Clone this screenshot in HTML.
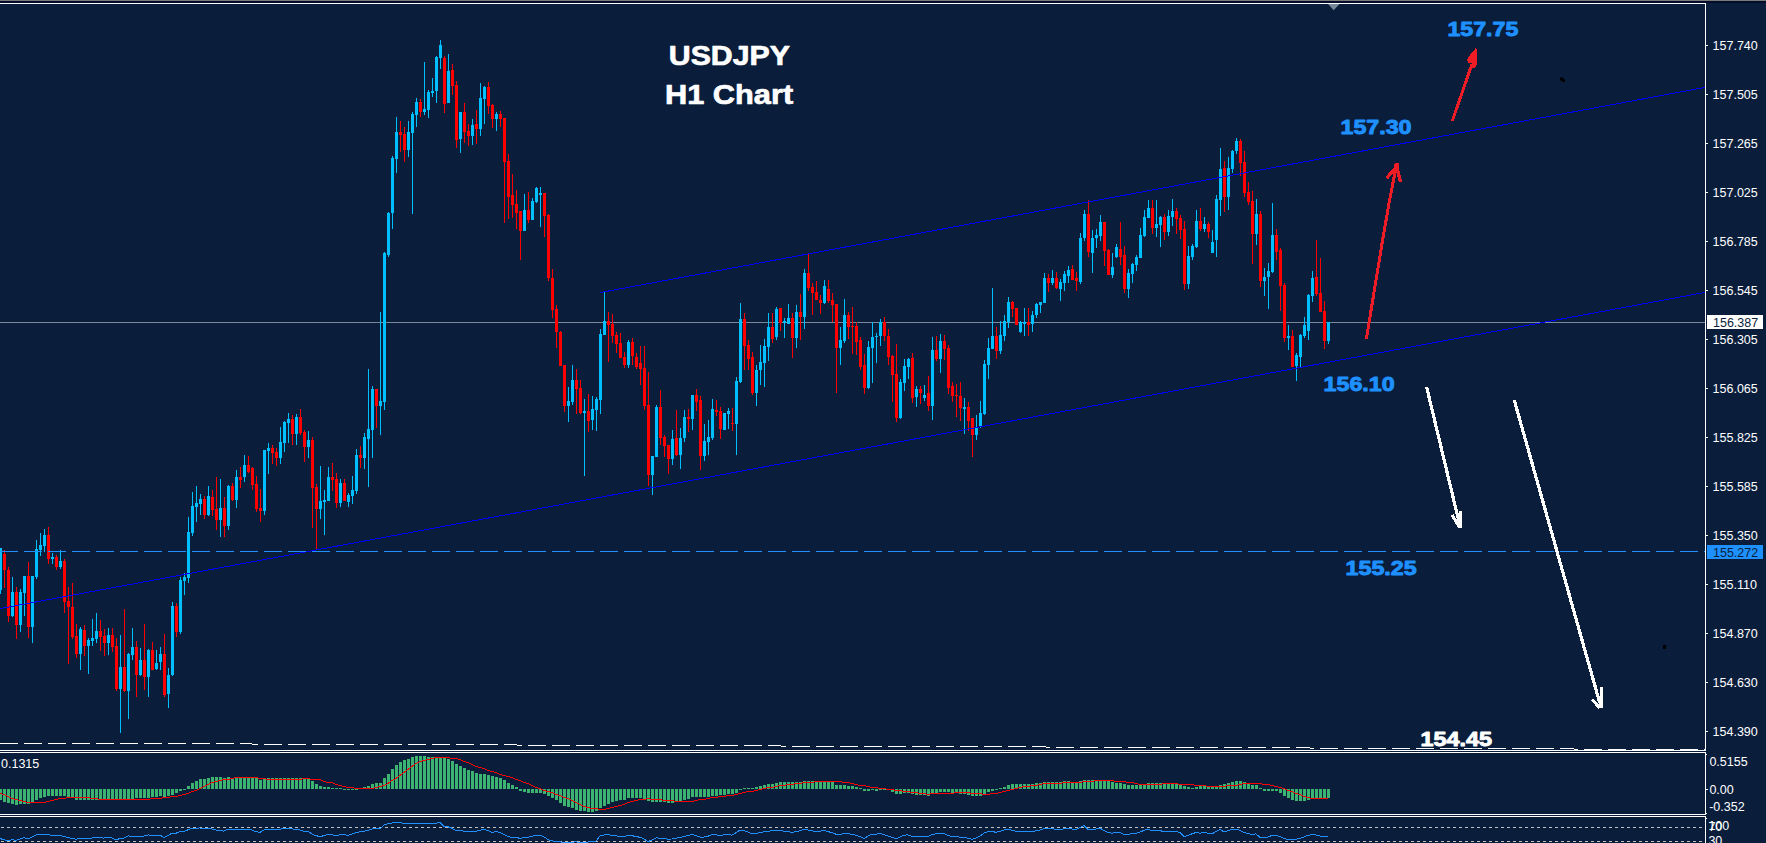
<!DOCTYPE html><html><head><meta charset="utf-8"><title>USDJPY H1 Chart</title>
<style>html,body{margin:0;padding:0;background:#0a1e3c;}body{width:1766px;height:843px;overflow:hidden;position:relative;font-family:"Liberation Sans",sans-serif;}svg{position:absolute;left:0;top:0;display:block}.ax{font-family:"Liberation Sans",sans-serif;font-size:12.5px;fill:#fff}.big{font-family:"Liberation Sans",sans-serif;font-weight:bold}</style></head><body>
<svg width="1766" height="843" viewBox="0 0 1766 843">
<rect x="0" y="0" width="1766" height="843" fill="#0a1e3c"/>
<g shape-rendering="crispEdges">
<rect x="0" y="0" width="1766" height="1" fill="#7c7a78"/>
<rect x="0" y="1" width="1766" height="2" fill="#020d2c"/>
<rect x="0" y="3" width="1706" height="1" fill="#fff"/>
<rect x="0" y="322" width="1705" height="1" fill="#778899"/>
</g>
<g shape-rendering="crispEdges">
<rect x="0" y="548" width="1" height="46" fill="#00bfff"/>
<rect x="-1" y="548" width="3" height="42" fill="#00bfff"/>
<rect x="4" y="550" width="1" height="38" fill="#ff0000"/>
<rect x="3" y="554" width="3" height="16" fill="#ff0000"/>
<rect x="8" y="567" width="1" height="55" fill="#ff0000"/>
<rect x="7" y="570" width="3" height="46" fill="#ff0000"/>
<rect x="12" y="577" width="1" height="40" fill="#00bfff"/>
<rect x="11" y="592" width="3" height="24" fill="#00bfff"/>
<rect x="16" y="587" width="1" height="52" fill="#ff0000"/>
<rect x="15" y="592" width="3" height="33" fill="#ff0000"/>
<rect x="20" y="589" width="1" height="43" fill="#00bfff"/>
<rect x="19" y="592" width="3" height="33" fill="#00bfff"/>
<rect x="24" y="576" width="1" height="40" fill="#00bfff"/>
<rect x="23" y="576" width="3" height="17" fill="#00bfff"/>
<rect x="28" y="562" width="1" height="76" fill="#ff0000"/>
<rect x="27" y="576" width="3" height="51" fill="#ff0000"/>
<rect x="32" y="576" width="1" height="67" fill="#00bfff"/>
<rect x="31" y="576" width="3" height="51" fill="#00bfff"/>
<rect x="36" y="540" width="1" height="39" fill="#00bfff"/>
<rect x="35" y="549" width="3" height="28" fill="#00bfff"/>
<rect x="40" y="533" width="1" height="23" fill="#00bfff"/>
<rect x="39" y="545" width="3" height="5" fill="#00bfff"/>
<rect x="44" y="529" width="1" height="23" fill="#00bfff"/>
<rect x="43" y="535" width="3" height="11" fill="#00bfff"/>
<rect x="48" y="527" width="1" height="37" fill="#ff0000"/>
<rect x="47" y="535" width="3" height="24" fill="#ff0000"/>
<rect x="52" y="553" width="1" height="11" fill="#00bfff"/>
<rect x="51" y="557" width="3" height="2" fill="#00bfff"/>
<rect x="56" y="555" width="1" height="15" fill="#ff0000"/>
<rect x="55" y="557" width="3" height="10" fill="#ff0000"/>
<rect x="60" y="550" width="1" height="19" fill="#00bfff"/>
<rect x="59" y="561" width="3" height="6" fill="#00bfff"/>
<rect x="64" y="559" width="1" height="54" fill="#ff0000"/>
<rect x="63" y="561" width="3" height="41" fill="#ff0000"/>
<rect x="68" y="587" width="1" height="77" fill="#ff0000"/>
<rect x="67" y="601" width="3" height="6" fill="#ff0000"/>
<rect x="72" y="583" width="1" height="56" fill="#ff0000"/>
<rect x="71" y="607" width="3" height="30" fill="#ff0000"/>
<rect x="76" y="624" width="1" height="34" fill="#ff0000"/>
<rect x="75" y="636" width="3" height="18" fill="#ff0000"/>
<rect x="80" y="627" width="1" height="43" fill="#00bfff"/>
<rect x="79" y="629" width="3" height="25" fill="#00bfff"/>
<rect x="84" y="625" width="1" height="31" fill="#ff0000"/>
<rect x="83" y="630" width="3" height="16" fill="#ff0000"/>
<rect x="88" y="638" width="1" height="36" fill="#00bfff"/>
<rect x="87" y="640" width="3" height="6" fill="#00bfff"/>
<rect x="92" y="619" width="1" height="27" fill="#00bfff"/>
<rect x="91" y="638" width="3" height="3" fill="#00bfff"/>
<rect x="96" y="613" width="1" height="30" fill="#00bfff"/>
<rect x="95" y="631" width="3" height="8" fill="#00bfff"/>
<rect x="100" y="620" width="1" height="31" fill="#ff0000"/>
<rect x="99" y="631" width="3" height="6" fill="#ff0000"/>
<rect x="104" y="629" width="1" height="27" fill="#ff0000"/>
<rect x="103" y="636" width="3" height="7" fill="#ff0000"/>
<rect x="108" y="628" width="1" height="27" fill="#00bfff"/>
<rect x="107" y="635" width="3" height="8" fill="#00bfff"/>
<rect x="112" y="628" width="1" height="24" fill="#ff0000"/>
<rect x="111" y="635" width="3" height="12" fill="#ff0000"/>
<rect x="116" y="638" width="1" height="53" fill="#ff0000"/>
<rect x="115" y="646" width="3" height="43" fill="#ff0000"/>
<rect x="120" y="635" width="1" height="98" fill="#00bfff"/>
<rect x="119" y="667" width="3" height="22" fill="#00bfff"/>
<rect x="124" y="609" width="1" height="83" fill="#ff0000"/>
<rect x="123" y="667" width="3" height="24" fill="#ff0000"/>
<rect x="128" y="653" width="1" height="66" fill="#00bfff"/>
<rect x="127" y="654" width="3" height="37" fill="#00bfff"/>
<rect x="132" y="628" width="1" height="32" fill="#00bfff"/>
<rect x="131" y="647" width="3" height="8" fill="#00bfff"/>
<rect x="136" y="641" width="1" height="56" fill="#ff0000"/>
<rect x="135" y="647" width="3" height="28" fill="#ff0000"/>
<rect x="140" y="648" width="1" height="28" fill="#00bfff"/>
<rect x="139" y="660" width="3" height="15" fill="#00bfff"/>
<rect x="144" y="624" width="1" height="66" fill="#ff0000"/>
<rect x="143" y="660" width="3" height="17" fill="#ff0000"/>
<rect x="148" y="649" width="1" height="48" fill="#00bfff"/>
<rect x="147" y="650" width="3" height="27" fill="#00bfff"/>
<rect x="152" y="642" width="1" height="28" fill="#ff0000"/>
<rect x="151" y="650" width="3" height="20" fill="#ff0000"/>
<rect x="156" y="650" width="1" height="20" fill="#00bfff"/>
<rect x="155" y="663" width="3" height="6" fill="#00bfff"/>
<rect x="160" y="647" width="1" height="23" fill="#00bfff"/>
<rect x="159" y="654" width="3" height="8" fill="#00bfff"/>
<rect x="164" y="634" width="1" height="63" fill="#ff0000"/>
<rect x="163" y="654" width="3" height="41" fill="#ff0000"/>
<rect x="168" y="668" width="1" height="40" fill="#00bfff"/>
<rect x="167" y="675" width="3" height="19" fill="#00bfff"/>
<rect x="172" y="602" width="1" height="74" fill="#00bfff"/>
<rect x="171" y="606" width="3" height="69" fill="#00bfff"/>
<rect x="176" y="603" width="1" height="34" fill="#ff0000"/>
<rect x="175" y="606" width="3" height="26" fill="#ff0000"/>
<rect x="180" y="577" width="1" height="57" fill="#00bfff"/>
<rect x="179" y="580" width="3" height="52" fill="#00bfff"/>
<rect x="184" y="573" width="1" height="22" fill="#00bfff"/>
<rect x="183" y="577" width="3" height="4" fill="#00bfff"/>
<rect x="188" y="517" width="1" height="66" fill="#00bfff"/>
<rect x="187" y="532" width="3" height="46" fill="#00bfff"/>
<rect x="192" y="492" width="1" height="44" fill="#00bfff"/>
<rect x="191" y="506" width="3" height="27" fill="#00bfff"/>
<rect x="196" y="486" width="1" height="36" fill="#00bfff"/>
<rect x="195" y="503" width="3" height="4" fill="#00bfff"/>
<rect x="200" y="494" width="1" height="21" fill="#00bfff"/>
<rect x="199" y="499" width="3" height="5" fill="#00bfff"/>
<rect x="204" y="496" width="1" height="23" fill="#ff0000"/>
<rect x="203" y="499" width="3" height="16" fill="#ff0000"/>
<rect x="208" y="486" width="1" height="30" fill="#00bfff"/>
<rect x="207" y="496" width="3" height="19" fill="#00bfff"/>
<rect x="212" y="490" width="1" height="26" fill="#ff0000"/>
<rect x="211" y="497" width="3" height="13" fill="#ff0000"/>
<rect x="216" y="477" width="1" height="53" fill="#ff0000"/>
<rect x="215" y="509" width="3" height="11" fill="#ff0000"/>
<rect x="220" y="479" width="1" height="58" fill="#00bfff"/>
<rect x="219" y="508" width="3" height="12" fill="#00bfff"/>
<rect x="224" y="497" width="1" height="40" fill="#ff0000"/>
<rect x="223" y="508" width="3" height="18" fill="#ff0000"/>
<rect x="228" y="485" width="1" height="45" fill="#00bfff"/>
<rect x="227" y="486" width="3" height="40" fill="#00bfff"/>
<rect x="232" y="483" width="1" height="18" fill="#ff0000"/>
<rect x="231" y="486" width="3" height="14" fill="#ff0000"/>
<rect x="236" y="470" width="1" height="38" fill="#00bfff"/>
<rect x="235" y="477" width="3" height="23" fill="#00bfff"/>
<rect x="240" y="467" width="1" height="21" fill="#ff0000"/>
<rect x="239" y="477" width="3" height="3" fill="#ff0000"/>
<rect x="244" y="455" width="1" height="27" fill="#00bfff"/>
<rect x="243" y="465" width="3" height="12" fill="#00bfff"/>
<rect x="248" y="456" width="1" height="17" fill="#ff0000"/>
<rect x="247" y="465" width="3" height="7" fill="#ff0000"/>
<rect x="252" y="467" width="1" height="23" fill="#ff0000"/>
<rect x="251" y="468" width="3" height="17" fill="#ff0000"/>
<rect x="256" y="476" width="1" height="36" fill="#ff0000"/>
<rect x="255" y="484" width="3" height="25" fill="#ff0000"/>
<rect x="260" y="489" width="1" height="33" fill="#ff0000"/>
<rect x="259" y="508" width="3" height="3" fill="#ff0000"/>
<rect x="264" y="450" width="1" height="65" fill="#00bfff"/>
<rect x="263" y="450" width="3" height="61" fill="#00bfff"/>
<rect x="268" y="443" width="1" height="31" fill="#00bfff"/>
<rect x="267" y="448" width="3" height="3" fill="#00bfff"/>
<rect x="272" y="445" width="1" height="19" fill="#ff0000"/>
<rect x="271" y="448" width="3" height="5" fill="#ff0000"/>
<rect x="276" y="448" width="1" height="18" fill="#ff0000"/>
<rect x="275" y="452" width="3" height="6" fill="#ff0000"/>
<rect x="280" y="427" width="1" height="37" fill="#00bfff"/>
<rect x="279" y="442" width="3" height="16" fill="#00bfff"/>
<rect x="284" y="421" width="1" height="31" fill="#00bfff"/>
<rect x="283" y="422" width="3" height="21" fill="#00bfff"/>
<rect x="288" y="413" width="1" height="30" fill="#00bfff"/>
<rect x="287" y="419" width="3" height="4" fill="#00bfff"/>
<rect x="292" y="415" width="1" height="30" fill="#ff0000"/>
<rect x="291" y="419" width="3" height="15" fill="#ff0000"/>
<rect x="296" y="414" width="1" height="31" fill="#00bfff"/>
<rect x="295" y="417" width="3" height="17" fill="#00bfff"/>
<rect x="300" y="409" width="1" height="26" fill="#ff0000"/>
<rect x="299" y="417" width="3" height="16" fill="#ff0000"/>
<rect x="304" y="430" width="1" height="32" fill="#ff0000"/>
<rect x="303" y="432" width="3" height="15" fill="#ff0000"/>
<rect x="308" y="431" width="1" height="27" fill="#00bfff"/>
<rect x="307" y="440" width="3" height="7" fill="#00bfff"/>
<rect x="312" y="437" width="1" height="91" fill="#ff0000"/>
<rect x="311" y="440" width="3" height="48" fill="#ff0000"/>
<rect x="316" y="484" width="1" height="66" fill="#ff0000"/>
<rect x="315" y="487" width="3" height="22" fill="#ff0000"/>
<rect x="320" y="466" width="1" height="53" fill="#00bfff"/>
<rect x="319" y="501" width="3" height="8" fill="#00bfff"/>
<rect x="324" y="490" width="1" height="45" fill="#00bfff"/>
<rect x="323" y="500" width="3" height="2" fill="#00bfff"/>
<rect x="328" y="467" width="1" height="34" fill="#00bfff"/>
<rect x="327" y="477" width="3" height="24" fill="#00bfff"/>
<rect x="332" y="463" width="1" height="28" fill="#ff0000"/>
<rect x="331" y="477" width="3" height="3" fill="#ff0000"/>
<rect x="336" y="473" width="1" height="35" fill="#ff0000"/>
<rect x="335" y="479" width="3" height="24" fill="#ff0000"/>
<rect x="340" y="479" width="1" height="28" fill="#00bfff"/>
<rect x="339" y="483" width="3" height="20" fill="#00bfff"/>
<rect x="344" y="479" width="1" height="22" fill="#ff0000"/>
<rect x="343" y="483" width="3" height="18" fill="#ff0000"/>
<rect x="348" y="493" width="1" height="14" fill="#00bfff"/>
<rect x="347" y="495" width="3" height="7" fill="#00bfff"/>
<rect x="352" y="476" width="1" height="28" fill="#00bfff"/>
<rect x="351" y="490" width="3" height="6" fill="#00bfff"/>
<rect x="356" y="449" width="1" height="45" fill="#00bfff"/>
<rect x="355" y="455" width="3" height="36" fill="#00bfff"/>
<rect x="360" y="446" width="1" height="22" fill="#ff0000"/>
<rect x="359" y="455" width="3" height="3" fill="#ff0000"/>
<rect x="364" y="433" width="1" height="36" fill="#00bfff"/>
<rect x="363" y="437" width="3" height="21" fill="#00bfff"/>
<rect x="368" y="369" width="1" height="118" fill="#00bfff"/>
<rect x="367" y="429" width="3" height="10" fill="#00bfff"/>
<rect x="372" y="386" width="1" height="72" fill="#00bfff"/>
<rect x="371" y="389" width="3" height="41" fill="#00bfff"/>
<rect x="376" y="389" width="1" height="39" fill="#ff0000"/>
<rect x="375" y="389" width="3" height="17" fill="#ff0000"/>
<rect x="380" y="312" width="1" height="123" fill="#00bfff"/>
<rect x="379" y="401" width="3" height="5" fill="#00bfff"/>
<rect x="384" y="252" width="1" height="158" fill="#00bfff"/>
<rect x="383" y="253" width="3" height="149" fill="#00bfff"/>
<rect x="388" y="212" width="1" height="45" fill="#00bfff"/>
<rect x="387" y="213" width="3" height="42" fill="#00bfff"/>
<rect x="392" y="156" width="1" height="73" fill="#00bfff"/>
<rect x="391" y="158" width="3" height="55" fill="#00bfff"/>
<rect x="396" y="117" width="1" height="56" fill="#00bfff"/>
<rect x="395" y="132" width="3" height="27" fill="#00bfff"/>
<rect x="400" y="121" width="1" height="31" fill="#ff0000"/>
<rect x="399" y="132" width="3" height="3" fill="#ff0000"/>
<rect x="404" y="127" width="1" height="35" fill="#ff0000"/>
<rect x="403" y="134" width="3" height="16" fill="#ff0000"/>
<rect x="408" y="121" width="1" height="36" fill="#00bfff"/>
<rect x="407" y="132" width="3" height="18" fill="#00bfff"/>
<rect x="412" y="112" width="1" height="102" fill="#00bfff"/>
<rect x="411" y="114" width="3" height="19" fill="#00bfff"/>
<rect x="416" y="98" width="1" height="29" fill="#00bfff"/>
<rect x="415" y="102" width="3" height="13" fill="#00bfff"/>
<rect x="420" y="99" width="1" height="18" fill="#ff0000"/>
<rect x="419" y="102" width="3" height="10" fill="#ff0000"/>
<rect x="424" y="62" width="1" height="53" fill="#00bfff"/>
<rect x="423" y="109" width="3" height="3" fill="#00bfff"/>
<rect x="428" y="90" width="1" height="28" fill="#00bfff"/>
<rect x="427" y="92" width="3" height="18" fill="#00bfff"/>
<rect x="432" y="78" width="1" height="19" fill="#00bfff"/>
<rect x="431" y="91" width="3" height="2" fill="#00bfff"/>
<rect x="436" y="56" width="1" height="47" fill="#00bfff"/>
<rect x="435" y="57" width="3" height="34" fill="#00bfff"/>
<rect x="440" y="40" width="1" height="29" fill="#00bfff"/>
<rect x="439" y="45" width="3" height="13" fill="#00bfff"/>
<rect x="444" y="56" width="1" height="57" fill="#ff0000"/>
<rect x="443" y="58" width="3" height="46" fill="#ff0000"/>
<rect x="448" y="54" width="1" height="49" fill="#00bfff"/>
<rect x="447" y="71" width="3" height="32" fill="#00bfff"/>
<rect x="452" y="64" width="1" height="31" fill="#ff0000"/>
<rect x="451" y="70" width="3" height="16" fill="#ff0000"/>
<rect x="456" y="81" width="1" height="67" fill="#ff0000"/>
<rect x="455" y="85" width="3" height="55" fill="#ff0000"/>
<rect x="460" y="112" width="1" height="41" fill="#00bfff"/>
<rect x="459" y="112" width="3" height="27" fill="#00bfff"/>
<rect x="464" y="103" width="1" height="40" fill="#ff0000"/>
<rect x="463" y="112" width="3" height="20" fill="#ff0000"/>
<rect x="468" y="124" width="1" height="22" fill="#ff0000"/>
<rect x="467" y="131" width="3" height="5" fill="#ff0000"/>
<rect x="472" y="119" width="1" height="26" fill="#00bfff"/>
<rect x="471" y="125" width="3" height="11" fill="#00bfff"/>
<rect x="476" y="110" width="1" height="34" fill="#ff0000"/>
<rect x="475" y="124" width="3" height="5" fill="#ff0000"/>
<rect x="480" y="83" width="1" height="53" fill="#00bfff"/>
<rect x="479" y="98" width="3" height="31" fill="#00bfff"/>
<rect x="484" y="86" width="1" height="38" fill="#00bfff"/>
<rect x="483" y="87" width="3" height="12" fill="#00bfff"/>
<rect x="488" y="82" width="1" height="32" fill="#ff0000"/>
<rect x="487" y="87" width="3" height="19" fill="#ff0000"/>
<rect x="492" y="104" width="1" height="24" fill="#ff0000"/>
<rect x="491" y="105" width="3" height="14" fill="#ff0000"/>
<rect x="496" y="112" width="1" height="19" fill="#00bfff"/>
<rect x="495" y="114" width="3" height="5" fill="#00bfff"/>
<rect x="500" y="111" width="1" height="16" fill="#ff0000"/>
<rect x="499" y="114" width="3" height="5" fill="#ff0000"/>
<rect x="504" y="118" width="1" height="105" fill="#ff0000"/>
<rect x="503" y="118" width="3" height="44" fill="#ff0000"/>
<rect x="508" y="154" width="1" height="65" fill="#ff0000"/>
<rect x="507" y="161" width="3" height="36" fill="#ff0000"/>
<rect x="512" y="174" width="1" height="44" fill="#ff0000"/>
<rect x="511" y="195" width="3" height="10" fill="#ff0000"/>
<rect x="516" y="190" width="1" height="39" fill="#ff0000"/>
<rect x="515" y="204" width="3" height="9" fill="#ff0000"/>
<rect x="520" y="211" width="1" height="49" fill="#ff0000"/>
<rect x="519" y="211" width="3" height="20" fill="#ff0000"/>
<rect x="524" y="194" width="1" height="37" fill="#00bfff"/>
<rect x="523" y="210" width="3" height="21" fill="#00bfff"/>
<rect x="528" y="192" width="1" height="31" fill="#ff0000"/>
<rect x="527" y="210" width="3" height="10" fill="#ff0000"/>
<rect x="532" y="198" width="1" height="22" fill="#00bfff"/>
<rect x="531" y="201" width="3" height="19" fill="#00bfff"/>
<rect x="536" y="187" width="1" height="16" fill="#00bfff"/>
<rect x="535" y="188" width="3" height="14" fill="#00bfff"/>
<rect x="540" y="187" width="1" height="40" fill="#00bfff"/>
<rect x="539" y="193" width="3" height="2" fill="#00bfff"/>
<rect x="544" y="193" width="1" height="44" fill="#ff0000"/>
<rect x="543" y="193" width="3" height="23" fill="#ff0000"/>
<rect x="548" y="214" width="1" height="67" fill="#ff0000"/>
<rect x="547" y="215" width="3" height="63" fill="#ff0000"/>
<rect x="552" y="269" width="1" height="49" fill="#ff0000"/>
<rect x="551" y="278" width="3" height="32" fill="#ff0000"/>
<rect x="556" y="305" width="1" height="43" fill="#ff0000"/>
<rect x="555" y="309" width="3" height="23" fill="#ff0000"/>
<rect x="560" y="331" width="1" height="35" fill="#ff0000"/>
<rect x="559" y="332" width="3" height="34" fill="#ff0000"/>
<rect x="564" y="365" width="1" height="47" fill="#ff0000"/>
<rect x="563" y="365" width="3" height="41" fill="#ff0000"/>
<rect x="568" y="387" width="1" height="35" fill="#00bfff"/>
<rect x="567" y="401" width="3" height="5" fill="#00bfff"/>
<rect x="572" y="365" width="1" height="40" fill="#00bfff"/>
<rect x="571" y="380" width="3" height="22" fill="#00bfff"/>
<rect x="576" y="369" width="1" height="45" fill="#ff0000"/>
<rect x="575" y="380" width="3" height="9" fill="#ff0000"/>
<rect x="580" y="380" width="1" height="34" fill="#ff0000"/>
<rect x="579" y="388" width="3" height="25" fill="#ff0000"/>
<rect x="584" y="399" width="1" height="77" fill="#00bfff"/>
<rect x="583" y="411" width="3" height="2" fill="#00bfff"/>
<rect x="588" y="394" width="1" height="38" fill="#ff0000"/>
<rect x="587" y="411" width="3" height="10" fill="#ff0000"/>
<rect x="592" y="396" width="1" height="34" fill="#00bfff"/>
<rect x="591" y="409" width="3" height="11" fill="#00bfff"/>
<rect x="596" y="397" width="1" height="34" fill="#00bfff"/>
<rect x="595" y="399" width="3" height="11" fill="#00bfff"/>
<rect x="600" y="329" width="1" height="85" fill="#00bfff"/>
<rect x="599" y="334" width="3" height="66" fill="#00bfff"/>
<rect x="604" y="292" width="1" height="43" fill="#00bfff"/>
<rect x="603" y="321" width="3" height="14" fill="#00bfff"/>
<rect x="608" y="312" width="1" height="50" fill="#ff0000"/>
<rect x="607" y="321" width="3" height="4" fill="#ff0000"/>
<rect x="612" y="314" width="1" height="29" fill="#ff0000"/>
<rect x="611" y="324" width="3" height="12" fill="#ff0000"/>
<rect x="616" y="332" width="1" height="21" fill="#ff0000"/>
<rect x="615" y="335" width="3" height="9" fill="#ff0000"/>
<rect x="620" y="333" width="1" height="25" fill="#ff0000"/>
<rect x="619" y="343" width="3" height="15" fill="#ff0000"/>
<rect x="624" y="352" width="1" height="16" fill="#ff0000"/>
<rect x="623" y="357" width="3" height="8" fill="#ff0000"/>
<rect x="628" y="340" width="1" height="28" fill="#00bfff"/>
<rect x="627" y="342" width="3" height="23" fill="#00bfff"/>
<rect x="632" y="338" width="1" height="27" fill="#ff0000"/>
<rect x="631" y="342" width="3" height="14" fill="#ff0000"/>
<rect x="636" y="353" width="1" height="16" fill="#ff0000"/>
<rect x="635" y="357" width="3" height="10" fill="#ff0000"/>
<rect x="640" y="346" width="1" height="39" fill="#ff0000"/>
<rect x="639" y="363" width="3" height="6" fill="#ff0000"/>
<rect x="644" y="346" width="1" height="64" fill="#ff0000"/>
<rect x="643" y="368" width="3" height="38" fill="#ff0000"/>
<rect x="648" y="372" width="1" height="114" fill="#ff0000"/>
<rect x="647" y="405" width="3" height="70" fill="#ff0000"/>
<rect x="652" y="456" width="1" height="39" fill="#00bfff"/>
<rect x="651" y="456" width="3" height="19" fill="#00bfff"/>
<rect x="656" y="405" width="1" height="52" fill="#00bfff"/>
<rect x="655" y="407" width="3" height="50" fill="#00bfff"/>
<rect x="660" y="390" width="1" height="55" fill="#ff0000"/>
<rect x="659" y="407" width="3" height="31" fill="#ff0000"/>
<rect x="664" y="435" width="1" height="22" fill="#ff0000"/>
<rect x="663" y="437" width="3" height="9" fill="#ff0000"/>
<rect x="668" y="445" width="1" height="29" fill="#ff0000"/>
<rect x="667" y="445" width="3" height="14" fill="#ff0000"/>
<rect x="672" y="430" width="1" height="35" fill="#00bfff"/>
<rect x="671" y="439" width="3" height="20" fill="#00bfff"/>
<rect x="676" y="410" width="1" height="46" fill="#ff0000"/>
<rect x="675" y="438" width="3" height="17" fill="#ff0000"/>
<rect x="680" y="428" width="1" height="41" fill="#00bfff"/>
<rect x="679" y="438" width="3" height="17" fill="#00bfff"/>
<rect x="684" y="410" width="1" height="32" fill="#00bfff"/>
<rect x="683" y="417" width="3" height="21" fill="#00bfff"/>
<rect x="688" y="409" width="1" height="23" fill="#ff0000"/>
<rect x="687" y="417" width="3" height="2" fill="#ff0000"/>
<rect x="692" y="395" width="1" height="35" fill="#00bfff"/>
<rect x="691" y="395" width="3" height="24" fill="#00bfff"/>
<rect x="696" y="389" width="1" height="22" fill="#ff0000"/>
<rect x="695" y="395" width="3" height="7" fill="#ff0000"/>
<rect x="700" y="396" width="1" height="74" fill="#ff0000"/>
<rect x="699" y="400" width="3" height="56" fill="#ff0000"/>
<rect x="704" y="424" width="1" height="37" fill="#00bfff"/>
<rect x="703" y="441" width="3" height="15" fill="#00bfff"/>
<rect x="708" y="420" width="1" height="35" fill="#00bfff"/>
<rect x="707" y="437" width="3" height="5" fill="#00bfff"/>
<rect x="712" y="399" width="1" height="41" fill="#00bfff"/>
<rect x="711" y="409" width="3" height="29" fill="#00bfff"/>
<rect x="716" y="400" width="1" height="16" fill="#ff0000"/>
<rect x="715" y="410" width="3" height="2" fill="#ff0000"/>
<rect x="720" y="407" width="1" height="32" fill="#ff0000"/>
<rect x="719" y="411" width="3" height="18" fill="#ff0000"/>
<rect x="724" y="413" width="1" height="17" fill="#00bfff"/>
<rect x="723" y="413" width="3" height="17" fill="#00bfff"/>
<rect x="728" y="408" width="1" height="21" fill="#00bfff"/>
<rect x="727" y="411" width="3" height="3" fill="#00bfff"/>
<rect x="732" y="408" width="1" height="23" fill="#ff0000"/>
<rect x="731" y="423" width="3" height="1" fill="#ff0000"/>
<rect x="736" y="377" width="1" height="78" fill="#00bfff"/>
<rect x="735" y="381" width="3" height="43" fill="#00bfff"/>
<rect x="740" y="303" width="1" height="80" fill="#00bfff"/>
<rect x="739" y="319" width="3" height="63" fill="#00bfff"/>
<rect x="744" y="313" width="1" height="57" fill="#ff0000"/>
<rect x="743" y="319" width="3" height="27" fill="#ff0000"/>
<rect x="748" y="340" width="1" height="30" fill="#ff0000"/>
<rect x="747" y="345" width="3" height="14" fill="#ff0000"/>
<rect x="752" y="352" width="1" height="43" fill="#ff0000"/>
<rect x="751" y="357" width="3" height="36" fill="#ff0000"/>
<rect x="756" y="365" width="1" height="41" fill="#00bfff"/>
<rect x="755" y="370" width="3" height="23" fill="#00bfff"/>
<rect x="760" y="345" width="1" height="40" fill="#00bfff"/>
<rect x="759" y="362" width="3" height="8" fill="#00bfff"/>
<rect x="764" y="339" width="1" height="48" fill="#00bfff"/>
<rect x="763" y="346" width="3" height="17" fill="#00bfff"/>
<rect x="768" y="313" width="1" height="48" fill="#00bfff"/>
<rect x="767" y="327" width="3" height="20" fill="#00bfff"/>
<rect x="772" y="313" width="1" height="30" fill="#ff0000"/>
<rect x="771" y="327" width="3" height="12" fill="#ff0000"/>
<rect x="776" y="307" width="1" height="33" fill="#00bfff"/>
<rect x="775" y="309" width="3" height="28" fill="#00bfff"/>
<rect x="780" y="308" width="1" height="23" fill="#ff0000"/>
<rect x="779" y="308" width="3" height="15" fill="#ff0000"/>
<rect x="784" y="318" width="1" height="20" fill="#00bfff"/>
<rect x="783" y="321" width="3" height="2" fill="#00bfff"/>
<rect x="788" y="304" width="1" height="20" fill="#00bfff"/>
<rect x="787" y="318" width="3" height="6" fill="#00bfff"/>
<rect x="792" y="313" width="1" height="45" fill="#ff0000"/>
<rect x="791" y="318" width="3" height="20" fill="#ff0000"/>
<rect x="796" y="305" width="1" height="43" fill="#00bfff"/>
<rect x="795" y="312" width="3" height="26" fill="#00bfff"/>
<rect x="800" y="294" width="1" height="46" fill="#ff0000"/>
<rect x="799" y="312" width="3" height="5" fill="#ff0000"/>
<rect x="804" y="269" width="1" height="60" fill="#00bfff"/>
<rect x="803" y="273" width="3" height="44" fill="#00bfff"/>
<rect x="808" y="254" width="1" height="37" fill="#ff0000"/>
<rect x="807" y="273" width="3" height="15" fill="#ff0000"/>
<rect x="812" y="283" width="1" height="32" fill="#ff0000"/>
<rect x="811" y="287" width="3" height="6" fill="#ff0000"/>
<rect x="816" y="281" width="1" height="19" fill="#ff0000"/>
<rect x="815" y="292" width="3" height="8" fill="#ff0000"/>
<rect x="820" y="295" width="1" height="19" fill="#ff0000"/>
<rect x="819" y="300" width="3" height="3" fill="#ff0000"/>
<rect x="824" y="280" width="1" height="24" fill="#00bfff"/>
<rect x="823" y="286" width="3" height="17" fill="#00bfff"/>
<rect x="828" y="280" width="1" height="23" fill="#ff0000"/>
<rect x="827" y="289" width="3" height="12" fill="#ff0000"/>
<rect x="832" y="293" width="1" height="29" fill="#ff0000"/>
<rect x="831" y="300" width="3" height="5" fill="#ff0000"/>
<rect x="836" y="304" width="1" height="89" fill="#ff0000"/>
<rect x="835" y="304" width="3" height="44" fill="#ff0000"/>
<rect x="840" y="327" width="1" height="38" fill="#00bfff"/>
<rect x="839" y="340" width="3" height="8" fill="#00bfff"/>
<rect x="844" y="299" width="1" height="44" fill="#00bfff"/>
<rect x="843" y="315" width="3" height="26" fill="#00bfff"/>
<rect x="848" y="312" width="1" height="27" fill="#ff0000"/>
<rect x="847" y="315" width="3" height="12" fill="#ff0000"/>
<rect x="852" y="307" width="1" height="47" fill="#ff0000"/>
<rect x="851" y="326" width="3" height="1" fill="#ff0000"/>
<rect x="856" y="322" width="1" height="33" fill="#ff0000"/>
<rect x="855" y="326" width="3" height="16" fill="#ff0000"/>
<rect x="860" y="337" width="1" height="33" fill="#ff0000"/>
<rect x="859" y="340" width="3" height="27" fill="#ff0000"/>
<rect x="864" y="354" width="1" height="40" fill="#ff0000"/>
<rect x="863" y="365" width="3" height="23" fill="#ff0000"/>
<rect x="868" y="341" width="1" height="48" fill="#00bfff"/>
<rect x="867" y="347" width="3" height="41" fill="#00bfff"/>
<rect x="872" y="322" width="1" height="61" fill="#00bfff"/>
<rect x="871" y="337" width="3" height="11" fill="#00bfff"/>
<rect x="876" y="333" width="1" height="30" fill="#00bfff"/>
<rect x="875" y="336" width="3" height="1" fill="#00bfff"/>
<rect x="880" y="319" width="1" height="27" fill="#00bfff"/>
<rect x="879" y="322" width="3" height="14" fill="#00bfff"/>
<rect x="884" y="317" width="1" height="24" fill="#ff0000"/>
<rect x="883" y="322" width="3" height="14" fill="#ff0000"/>
<rect x="888" y="329" width="1" height="36" fill="#ff0000"/>
<rect x="887" y="336" width="3" height="21" fill="#ff0000"/>
<rect x="892" y="355" width="1" height="47" fill="#ff0000"/>
<rect x="891" y="356" width="3" height="19" fill="#ff0000"/>
<rect x="896" y="344" width="1" height="78" fill="#ff0000"/>
<rect x="895" y="374" width="3" height="44" fill="#ff0000"/>
<rect x="900" y="379" width="1" height="40" fill="#00bfff"/>
<rect x="899" y="382" width="3" height="36" fill="#00bfff"/>
<rect x="904" y="359" width="1" height="32" fill="#00bfff"/>
<rect x="903" y="366" width="3" height="17" fill="#00bfff"/>
<rect x="908" y="358" width="1" height="21" fill="#00bfff"/>
<rect x="907" y="359" width="3" height="8" fill="#00bfff"/>
<rect x="912" y="353" width="1" height="50" fill="#ff0000"/>
<rect x="911" y="358" width="3" height="40" fill="#ff0000"/>
<rect x="916" y="386" width="1" height="21" fill="#00bfff"/>
<rect x="915" y="389" width="3" height="8" fill="#00bfff"/>
<rect x="920" y="386" width="1" height="18" fill="#ff0000"/>
<rect x="919" y="389" width="3" height="4" fill="#ff0000"/>
<rect x="924" y="385" width="1" height="16" fill="#00bfff"/>
<rect x="923" y="395" width="3" height="3" fill="#00bfff"/>
<rect x="928" y="376" width="1" height="35" fill="#ff0000"/>
<rect x="927" y="393" width="3" height="13" fill="#ff0000"/>
<rect x="932" y="337" width="1" height="83" fill="#00bfff"/>
<rect x="931" y="350" width="3" height="56" fill="#00bfff"/>
<rect x="936" y="336" width="1" height="25" fill="#ff0000"/>
<rect x="935" y="350" width="3" height="9" fill="#ff0000"/>
<rect x="940" y="334" width="1" height="39" fill="#00bfff"/>
<rect x="939" y="341" width="3" height="18" fill="#00bfff"/>
<rect x="944" y="335" width="1" height="25" fill="#ff0000"/>
<rect x="943" y="341" width="3" height="8" fill="#ff0000"/>
<rect x="948" y="345" width="1" height="49" fill="#ff0000"/>
<rect x="947" y="348" width="3" height="40" fill="#ff0000"/>
<rect x="952" y="382" width="1" height="20" fill="#ff0000"/>
<rect x="951" y="386" width="3" height="10" fill="#ff0000"/>
<rect x="956" y="384" width="1" height="33" fill="#ff0000"/>
<rect x="955" y="395" width="3" height="1" fill="#ff0000"/>
<rect x="960" y="382" width="1" height="39" fill="#ff0000"/>
<rect x="959" y="396" width="3" height="12" fill="#ff0000"/>
<rect x="964" y="398" width="1" height="36" fill="#00bfff"/>
<rect x="963" y="407" width="3" height="2" fill="#00bfff"/>
<rect x="968" y="402" width="1" height="29" fill="#ff0000"/>
<rect x="967" y="407" width="3" height="14" fill="#ff0000"/>
<rect x="972" y="418" width="1" height="39" fill="#ff0000"/>
<rect x="971" y="418" width="3" height="17" fill="#ff0000"/>
<rect x="976" y="415" width="1" height="25" fill="#00bfff"/>
<rect x="975" y="427" width="3" height="8" fill="#00bfff"/>
<rect x="980" y="401" width="1" height="27" fill="#00bfff"/>
<rect x="979" y="413" width="3" height="14" fill="#00bfff"/>
<rect x="984" y="360" width="1" height="55" fill="#00bfff"/>
<rect x="983" y="364" width="3" height="50" fill="#00bfff"/>
<rect x="988" y="338" width="1" height="41" fill="#00bfff"/>
<rect x="987" y="348" width="3" height="17" fill="#00bfff"/>
<rect x="992" y="288" width="1" height="61" fill="#00bfff"/>
<rect x="991" y="336" width="3" height="13" fill="#00bfff"/>
<rect x="996" y="327" width="1" height="32" fill="#ff0000"/>
<rect x="995" y="336" width="3" height="15" fill="#ff0000"/>
<rect x="1000" y="321" width="1" height="33" fill="#00bfff"/>
<rect x="999" y="335" width="3" height="16" fill="#00bfff"/>
<rect x="1004" y="315" width="1" height="26" fill="#00bfff"/>
<rect x="1003" y="321" width="3" height="15" fill="#00bfff"/>
<rect x="1008" y="297" width="1" height="31" fill="#00bfff"/>
<rect x="1007" y="302" width="3" height="20" fill="#00bfff"/>
<rect x="1012" y="301" width="1" height="16" fill="#ff0000"/>
<rect x="1011" y="302" width="3" height="7" fill="#ff0000"/>
<rect x="1016" y="308" width="1" height="17" fill="#ff0000"/>
<rect x="1015" y="308" width="3" height="17" fill="#ff0000"/>
<rect x="1020" y="321" width="1" height="12" fill="#00bfff"/>
<rect x="1019" y="322" width="3" height="10" fill="#00bfff"/>
<rect x="1024" y="308" width="1" height="28" fill="#00bfff"/>
<rect x="1023" y="322" width="3" height="2" fill="#00bfff"/>
<rect x="1028" y="308" width="1" height="28" fill="#ff0000"/>
<rect x="1027" y="322" width="3" height="3" fill="#ff0000"/>
<rect x="1032" y="311" width="1" height="21" fill="#00bfff"/>
<rect x="1031" y="315" width="3" height="9" fill="#00bfff"/>
<rect x="1036" y="303" width="1" height="15" fill="#00bfff"/>
<rect x="1035" y="304" width="3" height="11" fill="#00bfff"/>
<rect x="1040" y="302" width="1" height="11" fill="#00bfff"/>
<rect x="1039" y="302" width="3" height="3" fill="#00bfff"/>
<rect x="1044" y="273" width="1" height="30" fill="#00bfff"/>
<rect x="1043" y="278" width="3" height="25" fill="#00bfff"/>
<rect x="1048" y="274" width="1" height="18" fill="#ff0000"/>
<rect x="1047" y="278" width="3" height="5" fill="#ff0000"/>
<rect x="1052" y="270" width="1" height="15" fill="#00bfff"/>
<rect x="1051" y="278" width="3" height="5" fill="#00bfff"/>
<rect x="1056" y="272" width="1" height="17" fill="#ff0000"/>
<rect x="1055" y="278" width="3" height="10" fill="#ff0000"/>
<rect x="1060" y="279" width="1" height="22" fill="#00bfff"/>
<rect x="1059" y="282" width="3" height="7" fill="#00bfff"/>
<rect x="1064" y="271" width="1" height="20" fill="#00bfff"/>
<rect x="1063" y="274" width="3" height="9" fill="#00bfff"/>
<rect x="1068" y="266" width="1" height="17" fill="#00bfff"/>
<rect x="1067" y="270" width="3" height="6" fill="#00bfff"/>
<rect x="1072" y="265" width="1" height="15" fill="#ff0000"/>
<rect x="1071" y="269" width="3" height="11" fill="#ff0000"/>
<rect x="1076" y="272" width="1" height="19" fill="#ff0000"/>
<rect x="1075" y="278" width="3" height="3" fill="#ff0000"/>
<rect x="1080" y="233" width="1" height="51" fill="#00bfff"/>
<rect x="1079" y="238" width="3" height="44" fill="#00bfff"/>
<rect x="1084" y="210" width="1" height="31" fill="#00bfff"/>
<rect x="1083" y="214" width="3" height="24" fill="#00bfff"/>
<rect x="1088" y="200" width="1" height="57" fill="#ff0000"/>
<rect x="1087" y="214" width="3" height="38" fill="#ff0000"/>
<rect x="1092" y="230" width="1" height="43" fill="#00bfff"/>
<rect x="1091" y="238" width="3" height="15" fill="#00bfff"/>
<rect x="1096" y="229" width="1" height="19" fill="#00bfff"/>
<rect x="1095" y="235" width="3" height="3" fill="#00bfff"/>
<rect x="1100" y="215" width="1" height="26" fill="#00bfff"/>
<rect x="1099" y="222" width="3" height="14" fill="#00bfff"/>
<rect x="1104" y="222" width="1" height="44" fill="#ff0000"/>
<rect x="1103" y="222" width="3" height="29" fill="#ff0000"/>
<rect x="1108" y="249" width="1" height="26" fill="#ff0000"/>
<rect x="1107" y="250" width="3" height="25" fill="#ff0000"/>
<rect x="1112" y="253" width="1" height="25" fill="#00bfff"/>
<rect x="1111" y="267" width="3" height="8" fill="#00bfff"/>
<rect x="1116" y="244" width="1" height="14" fill="#00bfff"/>
<rect x="1115" y="247" width="3" height="10" fill="#00bfff"/>
<rect x="1120" y="222" width="1" height="43" fill="#ff0000"/>
<rect x="1119" y="249" width="3" height="8" fill="#ff0000"/>
<rect x="1124" y="246" width="1" height="47" fill="#ff0000"/>
<rect x="1123" y="255" width="3" height="34" fill="#ff0000"/>
<rect x="1128" y="269" width="1" height="29" fill="#00bfff"/>
<rect x="1127" y="273" width="3" height="16" fill="#00bfff"/>
<rect x="1132" y="263" width="1" height="20" fill="#00bfff"/>
<rect x="1131" y="264" width="3" height="10" fill="#00bfff"/>
<rect x="1136" y="255" width="1" height="16" fill="#00bfff"/>
<rect x="1135" y="257" width="3" height="8" fill="#00bfff"/>
<rect x="1140" y="228" width="1" height="30" fill="#00bfff"/>
<rect x="1139" y="235" width="3" height="23" fill="#00bfff"/>
<rect x="1144" y="210" width="1" height="27" fill="#00bfff"/>
<rect x="1143" y="217" width="3" height="19" fill="#00bfff"/>
<rect x="1148" y="200" width="1" height="18" fill="#00bfff"/>
<rect x="1147" y="208" width="3" height="10" fill="#00bfff"/>
<rect x="1152" y="200" width="1" height="34" fill="#ff0000"/>
<rect x="1151" y="208" width="3" height="20" fill="#ff0000"/>
<rect x="1156" y="200" width="1" height="37" fill="#00bfff"/>
<rect x="1155" y="224" width="3" height="4" fill="#00bfff"/>
<rect x="1160" y="216" width="1" height="31" fill="#00bfff"/>
<rect x="1159" y="217" width="3" height="8" fill="#00bfff"/>
<rect x="1164" y="214" width="1" height="26" fill="#ff0000"/>
<rect x="1163" y="217" width="3" height="15" fill="#ff0000"/>
<rect x="1168" y="210" width="1" height="26" fill="#00bfff"/>
<rect x="1167" y="216" width="3" height="16" fill="#00bfff"/>
<rect x="1172" y="199" width="1" height="27" fill="#00bfff"/>
<rect x="1171" y="211" width="3" height="6" fill="#00bfff"/>
<rect x="1176" y="208" width="1" height="26" fill="#ff0000"/>
<rect x="1175" y="211" width="3" height="8" fill="#ff0000"/>
<rect x="1180" y="215" width="1" height="24" fill="#ff0000"/>
<rect x="1179" y="218" width="3" height="12" fill="#ff0000"/>
<rect x="1184" y="221" width="1" height="69" fill="#ff0000"/>
<rect x="1183" y="229" width="3" height="55" fill="#ff0000"/>
<rect x="1188" y="246" width="1" height="43" fill="#00bfff"/>
<rect x="1187" y="256" width="3" height="28" fill="#00bfff"/>
<rect x="1192" y="244" width="1" height="16" fill="#00bfff"/>
<rect x="1191" y="246" width="3" height="11" fill="#00bfff"/>
<rect x="1196" y="210" width="1" height="38" fill="#00bfff"/>
<rect x="1195" y="221" width="3" height="26" fill="#00bfff"/>
<rect x="1200" y="208" width="1" height="23" fill="#ff0000"/>
<rect x="1199" y="221" width="3" height="8" fill="#ff0000"/>
<rect x="1204" y="217" width="1" height="15" fill="#00bfff"/>
<rect x="1203" y="224" width="3" height="5" fill="#00bfff"/>
<rect x="1208" y="222" width="1" height="16" fill="#ff0000"/>
<rect x="1207" y="224" width="3" height="8" fill="#ff0000"/>
<rect x="1212" y="230" width="1" height="23" fill="#00bfff"/>
<rect x="1211" y="242" width="3" height="11" fill="#00bfff"/>
<rect x="1216" y="195" width="1" height="62" fill="#00bfff"/>
<rect x="1215" y="199" width="3" height="41" fill="#00bfff"/>
<rect x="1220" y="148" width="1" height="68" fill="#00bfff"/>
<rect x="1219" y="169" width="3" height="31" fill="#00bfff"/>
<rect x="1224" y="161" width="1" height="51" fill="#ff0000"/>
<rect x="1223" y="168" width="3" height="29" fill="#ff0000"/>
<rect x="1228" y="157" width="1" height="53" fill="#00bfff"/>
<rect x="1227" y="168" width="3" height="29" fill="#00bfff"/>
<rect x="1232" y="150" width="1" height="23" fill="#00bfff"/>
<rect x="1231" y="151" width="3" height="18" fill="#00bfff"/>
<rect x="1236" y="138" width="1" height="16" fill="#00bfff"/>
<rect x="1235" y="141" width="3" height="10" fill="#00bfff"/>
<rect x="1240" y="139" width="1" height="37" fill="#ff0000"/>
<rect x="1239" y="141" width="3" height="22" fill="#ff0000"/>
<rect x="1244" y="151" width="1" height="46" fill="#ff0000"/>
<rect x="1243" y="162" width="3" height="31" fill="#ff0000"/>
<rect x="1248" y="182" width="1" height="23" fill="#ff0000"/>
<rect x="1247" y="192" width="3" height="10" fill="#ff0000"/>
<rect x="1252" y="191" width="1" height="73" fill="#ff0000"/>
<rect x="1251" y="201" width="3" height="33" fill="#ff0000"/>
<rect x="1256" y="199" width="1" height="46" fill="#00bfff"/>
<rect x="1255" y="214" width="3" height="20" fill="#00bfff"/>
<rect x="1260" y="211" width="1" height="76" fill="#ff0000"/>
<rect x="1259" y="214" width="3" height="67" fill="#ff0000"/>
<rect x="1264" y="268" width="1" height="28" fill="#00bfff"/>
<rect x="1263" y="277" width="3" height="4" fill="#00bfff"/>
<rect x="1268" y="263" width="1" height="46" fill="#00bfff"/>
<rect x="1267" y="271" width="3" height="6" fill="#00bfff"/>
<rect x="1272" y="203" width="1" height="70" fill="#00bfff"/>
<rect x="1271" y="235" width="3" height="37" fill="#00bfff"/>
<rect x="1276" y="229" width="1" height="31" fill="#ff0000"/>
<rect x="1275" y="235" width="3" height="17" fill="#ff0000"/>
<rect x="1280" y="248" width="1" height="63" fill="#ff0000"/>
<rect x="1279" y="250" width="3" height="36" fill="#ff0000"/>
<rect x="1284" y="283" width="1" height="59" fill="#ff0000"/>
<rect x="1283" y="285" width="3" height="53" fill="#ff0000"/>
<rect x="1288" y="325" width="1" height="25" fill="#00bfff"/>
<rect x="1287" y="336" width="3" height="2" fill="#00bfff"/>
<rect x="1292" y="330" width="1" height="37" fill="#ff0000"/>
<rect x="1291" y="336" width="3" height="31" fill="#ff0000"/>
<rect x="1296" y="353" width="1" height="28" fill="#00bfff"/>
<rect x="1295" y="355" width="3" height="11" fill="#00bfff"/>
<rect x="1300" y="334" width="1" height="34" fill="#00bfff"/>
<rect x="1299" y="335" width="3" height="22" fill="#00bfff"/>
<rect x="1304" y="317" width="1" height="21" fill="#00bfff"/>
<rect x="1303" y="325" width="3" height="11" fill="#00bfff"/>
<rect x="1308" y="294" width="1" height="46" fill="#00bfff"/>
<rect x="1307" y="295" width="3" height="36" fill="#00bfff"/>
<rect x="1312" y="271" width="1" height="31" fill="#00bfff"/>
<rect x="1311" y="278" width="3" height="18" fill="#00bfff"/>
<rect x="1316" y="240" width="1" height="56" fill="#ff0000"/>
<rect x="1315" y="277" width="3" height="17" fill="#ff0000"/>
<rect x="1320" y="258" width="1" height="54" fill="#ff0000"/>
<rect x="1319" y="293" width="3" height="19" fill="#ff0000"/>
<rect x="1324" y="301" width="1" height="48" fill="#ff0000"/>
<rect x="1323" y="311" width="3" height="30" fill="#ff0000"/>
<rect x="1328" y="322" width="1" height="22" fill="#00bfff"/>
<rect x="1327" y="322" width="3" height="19" fill="#00bfff"/>
</g>
<g shape-rendering="crispEdges" stroke="#0000ff" stroke-width="1">
<line x1="600" y1="292.6" x2="1705" y2="87.4"/>
<line x1="0" y1="608.6" x2="1705" y2="292.4"/>
</g>
<g shape-rendering="crispEdges">
<rect x="0" y="551" width="18" height="1" fill="#1e90ff"/>
<rect x="24" y="551" width="18" height="1" fill="#1e90ff"/>
<rect x="48" y="551" width="18" height="1" fill="#1e90ff"/>
<rect x="72" y="551" width="18" height="1" fill="#1e90ff"/>
<rect x="96" y="551" width="18" height="1" fill="#1e90ff"/>
<rect x="120" y="551" width="18" height="1" fill="#1e90ff"/>
<rect x="144" y="551" width="18" height="1" fill="#1e90ff"/>
<rect x="168" y="551" width="18" height="1" fill="#1e90ff"/>
<rect x="192" y="551" width="18" height="1" fill="#1e90ff"/>
<rect x="216" y="551" width="18" height="1" fill="#1e90ff"/>
<rect x="240" y="551" width="18" height="1" fill="#1e90ff"/>
<rect x="264" y="551" width="18" height="1" fill="#1e90ff"/>
<rect x="288" y="551" width="18" height="1" fill="#1e90ff"/>
<rect x="312" y="551" width="18" height="1" fill="#1e90ff"/>
<rect x="336" y="551" width="18" height="1" fill="#1e90ff"/>
<rect x="360" y="551" width="18" height="1" fill="#1e90ff"/>
<rect x="384" y="551" width="18" height="1" fill="#1e90ff"/>
<rect x="408" y="551" width="18" height="1" fill="#1e90ff"/>
<rect x="432" y="551" width="18" height="1" fill="#1e90ff"/>
<rect x="456" y="551" width="18" height="1" fill="#1e90ff"/>
<rect x="480" y="551" width="18" height="1" fill="#1e90ff"/>
<rect x="504" y="551" width="18" height="1" fill="#1e90ff"/>
<rect x="528" y="551" width="18" height="1" fill="#1e90ff"/>
<rect x="552" y="551" width="18" height="1" fill="#1e90ff"/>
<rect x="576" y="551" width="18" height="1" fill="#1e90ff"/>
<rect x="600" y="551" width="18" height="1" fill="#1e90ff"/>
<rect x="624" y="551" width="18" height="1" fill="#1e90ff"/>
<rect x="648" y="551" width="18" height="1" fill="#1e90ff"/>
<rect x="672" y="551" width="18" height="1" fill="#1e90ff"/>
<rect x="696" y="551" width="18" height="1" fill="#1e90ff"/>
<rect x="720" y="551" width="18" height="1" fill="#1e90ff"/>
<rect x="744" y="551" width="18" height="1" fill="#1e90ff"/>
<rect x="768" y="551" width="18" height="1" fill="#1e90ff"/>
<rect x="792" y="551" width="18" height="1" fill="#1e90ff"/>
<rect x="816" y="551" width="18" height="1" fill="#1e90ff"/>
<rect x="840" y="551" width="18" height="1" fill="#1e90ff"/>
<rect x="864" y="551" width="18" height="1" fill="#1e90ff"/>
<rect x="888" y="551" width="18" height="1" fill="#1e90ff"/>
<rect x="912" y="551" width="18" height="1" fill="#1e90ff"/>
<rect x="936" y="551" width="18" height="1" fill="#1e90ff"/>
<rect x="960" y="551" width="18" height="1" fill="#1e90ff"/>
<rect x="984" y="551" width="18" height="1" fill="#1e90ff"/>
<rect x="1008" y="551" width="18" height="1" fill="#1e90ff"/>
<rect x="1032" y="551" width="18" height="1" fill="#1e90ff"/>
<rect x="1056" y="551" width="18" height="1" fill="#1e90ff"/>
<rect x="1080" y="551" width="18" height="1" fill="#1e90ff"/>
<rect x="1104" y="551" width="18" height="1" fill="#1e90ff"/>
<rect x="1128" y="551" width="18" height="1" fill="#1e90ff"/>
<rect x="1152" y="551" width="18" height="1" fill="#1e90ff"/>
<rect x="1176" y="551" width="18" height="1" fill="#1e90ff"/>
<rect x="1200" y="551" width="18" height="1" fill="#1e90ff"/>
<rect x="1224" y="551" width="18" height="1" fill="#1e90ff"/>
<rect x="1248" y="551" width="18" height="1" fill="#1e90ff"/>
<rect x="1272" y="551" width="18" height="1" fill="#1e90ff"/>
<rect x="1296" y="551" width="18" height="1" fill="#1e90ff"/>
<rect x="1320" y="551" width="18" height="1" fill="#1e90ff"/>
<rect x="1344" y="551" width="18" height="1" fill="#1e90ff"/>
<rect x="1368" y="551" width="18" height="1" fill="#1e90ff"/>
<rect x="1392" y="551" width="18" height="1" fill="#1e90ff"/>
<rect x="1416" y="551" width="18" height="1" fill="#1e90ff"/>
<rect x="1440" y="551" width="18" height="1" fill="#1e90ff"/>
<rect x="1464" y="551" width="18" height="1" fill="#1e90ff"/>
<rect x="1488" y="551" width="18" height="1" fill="#1e90ff"/>
<rect x="1512" y="551" width="18" height="1" fill="#1e90ff"/>
<rect x="1536" y="551" width="18" height="1" fill="#1e90ff"/>
<rect x="1560" y="551" width="18" height="1" fill="#1e90ff"/>
<rect x="1584" y="551" width="18" height="1" fill="#1e90ff"/>
<rect x="1608" y="551" width="18" height="1" fill="#1e90ff"/>
<rect x="1632" y="551" width="18" height="1" fill="#1e90ff"/>
<rect x="1656" y="551" width="18" height="1" fill="#1e90ff"/>
<rect x="1680" y="551" width="18" height="1" fill="#1e90ff"/>
<rect x="1704" y="551" width="0" height="1" fill="#1e90ff"/>
<rect x="1704" y="551" width="1" height="1" fill="#1e90ff"/>
</g>
<g shape-rendering="crispEdges" fill="#fff">
<rect x="0" y="743" width="18" height="1"/>
<rect x="24" y="743" width="18" height="1"/>
<rect x="48" y="743" width="18" height="1"/>
<rect x="72" y="743" width="18" height="1"/>
<rect x="96" y="743" width="18" height="1"/>
<rect x="120" y="743" width="18" height="1"/>
<rect x="144" y="743" width="18" height="1"/>
<rect x="168" y="743" width="18" height="1"/>
<rect x="192" y="743" width="18" height="1"/>
<rect x="216" y="743" width="18" height="1"/>
<rect x="240" y="743" width="12" height="1"/>
<rect x="252" y="744" width="6" height="1"/>
<rect x="264" y="744" width="18" height="1"/>
<rect x="288" y="744" width="18" height="1"/>
<rect x="312" y="744" width="18" height="1"/>
<rect x="336" y="744" width="18" height="1"/>
<rect x="360" y="744" width="18" height="1"/>
<rect x="384" y="744" width="18" height="1"/>
<rect x="408" y="744" width="18" height="1"/>
<rect x="432" y="744" width="18" height="1"/>
<rect x="456" y="744" width="18" height="1"/>
<rect x="480" y="744" width="18" height="1"/>
<rect x="504" y="744" width="13" height="1"/>
<rect x="517" y="745" width="5" height="1"/>
<rect x="528" y="745" width="18" height="1"/>
<rect x="552" y="745" width="18" height="1"/>
<rect x="576" y="745" width="18" height="1"/>
<rect x="600" y="745" width="18" height="1"/>
<rect x="624" y="745" width="18" height="1"/>
<rect x="648" y="745" width="18" height="1"/>
<rect x="672" y="745" width="18" height="1"/>
<rect x="696" y="745" width="18" height="1"/>
<rect x="720" y="745" width="18" height="1"/>
<rect x="744" y="745" width="18" height="1"/>
<rect x="768" y="745" width="13" height="1"/>
<rect x="781" y="746" width="5" height="1"/>
<rect x="792" y="746" width="18" height="1"/>
<rect x="816" y="746" width="18" height="1"/>
<rect x="840" y="746" width="18" height="1"/>
<rect x="864" y="746" width="18" height="1"/>
<rect x="888" y="746" width="18" height="1"/>
<rect x="912" y="746" width="18" height="1"/>
<rect x="936" y="746" width="18" height="1"/>
<rect x="960" y="746" width="18" height="1"/>
<rect x="984" y="746" width="18" height="1"/>
<rect x="1008" y="746" width="18" height="1"/>
<rect x="1032" y="746" width="14" height="1"/>
<rect x="1046" y="747" width="4" height="1"/>
<rect x="1056" y="747" width="18" height="1"/>
<rect x="1080" y="747" width="18" height="1"/>
<rect x="1104" y="747" width="18" height="1"/>
<rect x="1128" y="747" width="18" height="1"/>
<rect x="1152" y="747" width="18" height="1"/>
<rect x="1176" y="747" width="18" height="1"/>
<rect x="1200" y="747" width="18" height="1"/>
<rect x="1224" y="747" width="18" height="1"/>
<rect x="1248" y="747" width="18" height="1"/>
<rect x="1272" y="747" width="18" height="1"/>
<rect x="1296" y="747" width="14" height="1"/>
<rect x="1310" y="748" width="4" height="1"/>
<rect x="1320" y="748" width="18" height="1"/>
<rect x="1344" y="748" width="18" height="1"/>
<rect x="1368" y="748" width="18" height="1"/>
<rect x="1392" y="748" width="18" height="1"/>
<rect x="1416" y="748" width="18" height="1"/>
<rect x="1440" y="748" width="18" height="1"/>
<rect x="1464" y="748" width="18" height="1"/>
<rect x="1488" y="748" width="18" height="1"/>
<rect x="1512" y="748" width="18" height="1"/>
<rect x="1536" y="748" width="18" height="1"/>
<rect x="1560" y="748" width="14" height="1"/>
<rect x="1574" y="749" width="4" height="1"/>
<rect x="1584" y="749" width="18" height="1"/>
<rect x="1608" y="749" width="18" height="1"/>
<rect x="1632" y="749" width="18" height="1"/>
<rect x="1656" y="749" width="18" height="1"/>
<rect x="1680" y="749" width="18" height="1"/>
<rect x="1704" y="749" width="1" height="1"/>
</g>
<g shape-rendering="crispEdges" fill="#fff">
<rect x="0" y="750" width="1706" height="1"/>
<rect x="0" y="752" width="1706" height="1"/>
<rect x="0" y="814" width="1706" height="1"/>
<rect x="0" y="816" width="1706" height="1"/>
<rect x="1705" y="3" width="1" height="748"/>
<rect x="1705" y="752" width="1" height="63"/>
<rect x="1705" y="816" width="1" height="27"/>
<rect x="1706" y="45" width="2" height="1"/>
<rect x="1706" y="94" width="2" height="1"/>
<rect x="1706" y="143" width="2" height="1"/>
<rect x="1706" y="192" width="2" height="1"/>
<rect x="1706" y="241" width="2" height="1"/>
<rect x="1706" y="290" width="2" height="1"/>
<rect x="1706" y="339" width="2" height="1"/>
<rect x="1706" y="388" width="2" height="1"/>
<rect x="1706" y="437" width="2" height="1"/>
<rect x="1706" y="486" width="2" height="1"/>
<rect x="1706" y="535" width="2" height="1"/>
<rect x="1706" y="584" width="2" height="1"/>
<rect x="1706" y="633" width="2" height="1"/>
<rect x="1706" y="682" width="2" height="1"/>
<rect x="1706" y="731" width="2" height="1"/>
<rect x="1706" y="789" width="2" height="1"/>
<rect x="1706" y="754" width="1" height="1"/>
<rect x="1706" y="813" width="1" height="1"/>
<rect x="1706" y="818" width="1" height="1"/>
</g>
<text class="ax" x="1712.6" y="49.6">157.740</text>
<text class="ax" x="1712.6" y="98.6">157.505</text>
<text class="ax" x="1712.6" y="147.6">157.265</text>
<text class="ax" x="1712.6" y="196.6">157.025</text>
<text class="ax" x="1712.6" y="245.6">156.785</text>
<text class="ax" x="1712.6" y="294.6">156.545</text>
<text class="ax" x="1712.6" y="343.6">156.305</text>
<text class="ax" x="1712.6" y="392.6">156.065</text>
<text class="ax" x="1712.6" y="441.6">155.825</text>
<text class="ax" x="1712.6" y="490.6">155.585</text>
<text class="ax" x="1712.6" y="539.6">155.350</text>
<text class="ax" x="1712.6" y="588.6">155.110</text>
<text class="ax" x="1712.6" y="637.6">154.870</text>
<text class="ax" x="1712.6" y="686.6">154.630</text>
<text class="ax" x="1712.6" y="735.6">154.390</text>
<rect x="1707" y="315" width="56" height="14" fill="#fff" shape-rendering="crispEdges"/>
<text class="ax" x="1713" y="326.6" style="fill:#0a1e3c">156.387</text>
<rect x="1707" y="545" width="56" height="14" fill="#1e90ff" shape-rendering="crispEdges"/>
<text class="ax" x="1713" y="556.6" style="fill:#0a1e3c">155.272</text>
<text class="ax" x="1709.4" y="765.6">0.5155</text>
<text class="ax" x="1709.4" y="793.6">0.00</text>
<text class="ax" x="1709.2" y="810.6">-0.352</text>
<text class="ax" x="1" y="767.6">0.1315</text>
<text class="ax" x="1708.4" y="829.6">100</text>
<text class="ax" x="1708.4" y="831.4">70</text>
<text class="ax" x="1708.4" y="845.2">30</text>
<g shape-rendering="crispEdges" fill="#c0c0c0">
<rect x="1" y="827" width="3" height="1"/>
<rect x="1" y="841" width="3" height="1"/>
<rect x="7" y="827" width="3" height="1"/>
<rect x="7" y="841" width="3" height="1"/>
<rect x="13" y="827" width="3" height="1"/>
<rect x="13" y="841" width="3" height="1"/>
<rect x="19" y="827" width="3" height="1"/>
<rect x="19" y="841" width="3" height="1"/>
<rect x="25" y="827" width="3" height="1"/>
<rect x="25" y="841" width="3" height="1"/>
<rect x="31" y="827" width="3" height="1"/>
<rect x="31" y="841" width="3" height="1"/>
<rect x="37" y="827" width="3" height="1"/>
<rect x="37" y="841" width="3" height="1"/>
<rect x="43" y="827" width="3" height="1"/>
<rect x="43" y="841" width="3" height="1"/>
<rect x="49" y="827" width="3" height="1"/>
<rect x="49" y="841" width="3" height="1"/>
<rect x="55" y="827" width="3" height="1"/>
<rect x="55" y="841" width="3" height="1"/>
<rect x="61" y="827" width="3" height="1"/>
<rect x="61" y="841" width="3" height="1"/>
<rect x="67" y="827" width="3" height="1"/>
<rect x="67" y="841" width="3" height="1"/>
<rect x="73" y="827" width="3" height="1"/>
<rect x="73" y="841" width="3" height="1"/>
<rect x="79" y="827" width="3" height="1"/>
<rect x="79" y="841" width="3" height="1"/>
<rect x="85" y="827" width="3" height="1"/>
<rect x="85" y="841" width="3" height="1"/>
<rect x="91" y="827" width="3" height="1"/>
<rect x="91" y="841" width="3" height="1"/>
<rect x="97" y="827" width="3" height="1"/>
<rect x="97" y="841" width="3" height="1"/>
<rect x="103" y="827" width="3" height="1"/>
<rect x="103" y="841" width="3" height="1"/>
<rect x="109" y="827" width="3" height="1"/>
<rect x="109" y="841" width="3" height="1"/>
<rect x="115" y="827" width="3" height="1"/>
<rect x="115" y="841" width="3" height="1"/>
<rect x="121" y="827" width="3" height="1"/>
<rect x="121" y="841" width="3" height="1"/>
<rect x="127" y="827" width="3" height="1"/>
<rect x="127" y="841" width="3" height="1"/>
<rect x="133" y="827" width="3" height="1"/>
<rect x="133" y="841" width="3" height="1"/>
<rect x="139" y="827" width="3" height="1"/>
<rect x="139" y="841" width="3" height="1"/>
<rect x="145" y="827" width="3" height="1"/>
<rect x="145" y="841" width="3" height="1"/>
<rect x="151" y="827" width="3" height="1"/>
<rect x="151" y="841" width="3" height="1"/>
<rect x="157" y="827" width="3" height="1"/>
<rect x="157" y="841" width="3" height="1"/>
<rect x="163" y="827" width="3" height="1"/>
<rect x="163" y="841" width="3" height="1"/>
<rect x="169" y="827" width="3" height="1"/>
<rect x="169" y="841" width="3" height="1"/>
<rect x="175" y="827" width="3" height="1"/>
<rect x="175" y="841" width="3" height="1"/>
<rect x="181" y="827" width="3" height="1"/>
<rect x="181" y="841" width="3" height="1"/>
<rect x="187" y="827" width="3" height="1"/>
<rect x="187" y="841" width="3" height="1"/>
<rect x="193" y="827" width="3" height="1"/>
<rect x="193" y="841" width="3" height="1"/>
<rect x="199" y="827" width="3" height="1"/>
<rect x="199" y="841" width="3" height="1"/>
<rect x="205" y="827" width="3" height="1"/>
<rect x="205" y="841" width="3" height="1"/>
<rect x="211" y="827" width="3" height="1"/>
<rect x="211" y="841" width="3" height="1"/>
<rect x="217" y="827" width="3" height="1"/>
<rect x="217" y="841" width="3" height="1"/>
<rect x="223" y="827" width="3" height="1"/>
<rect x="223" y="841" width="3" height="1"/>
<rect x="229" y="827" width="3" height="1"/>
<rect x="229" y="841" width="3" height="1"/>
<rect x="235" y="827" width="3" height="1"/>
<rect x="235" y="841" width="3" height="1"/>
<rect x="241" y="827" width="3" height="1"/>
<rect x="241" y="841" width="3" height="1"/>
<rect x="247" y="827" width="3" height="1"/>
<rect x="247" y="841" width="3" height="1"/>
<rect x="253" y="827" width="3" height="1"/>
<rect x="253" y="841" width="3" height="1"/>
<rect x="259" y="827" width="3" height="1"/>
<rect x="259" y="841" width="3" height="1"/>
<rect x="265" y="827" width="3" height="1"/>
<rect x="265" y="841" width="3" height="1"/>
<rect x="271" y="827" width="3" height="1"/>
<rect x="271" y="841" width="3" height="1"/>
<rect x="277" y="827" width="3" height="1"/>
<rect x="277" y="841" width="3" height="1"/>
<rect x="283" y="827" width="3" height="1"/>
<rect x="283" y="841" width="3" height="1"/>
<rect x="289" y="827" width="3" height="1"/>
<rect x="289" y="841" width="3" height="1"/>
<rect x="295" y="827" width="3" height="1"/>
<rect x="295" y="841" width="3" height="1"/>
<rect x="301" y="827" width="3" height="1"/>
<rect x="301" y="841" width="3" height="1"/>
<rect x="307" y="827" width="3" height="1"/>
<rect x="307" y="841" width="3" height="1"/>
<rect x="313" y="827" width="3" height="1"/>
<rect x="313" y="841" width="3" height="1"/>
<rect x="319" y="827" width="3" height="1"/>
<rect x="319" y="841" width="3" height="1"/>
<rect x="325" y="827" width="3" height="1"/>
<rect x="325" y="841" width="3" height="1"/>
<rect x="331" y="827" width="3" height="1"/>
<rect x="331" y="841" width="3" height="1"/>
<rect x="337" y="827" width="3" height="1"/>
<rect x="337" y="841" width="3" height="1"/>
<rect x="343" y="827" width="3" height="1"/>
<rect x="343" y="841" width="3" height="1"/>
<rect x="349" y="827" width="3" height="1"/>
<rect x="349" y="841" width="3" height="1"/>
<rect x="355" y="827" width="3" height="1"/>
<rect x="355" y="841" width="3" height="1"/>
<rect x="361" y="827" width="3" height="1"/>
<rect x="361" y="841" width="3" height="1"/>
<rect x="367" y="827" width="3" height="1"/>
<rect x="367" y="841" width="3" height="1"/>
<rect x="373" y="827" width="3" height="1"/>
<rect x="373" y="841" width="3" height="1"/>
<rect x="379" y="827" width="3" height="1"/>
<rect x="379" y="841" width="3" height="1"/>
<rect x="385" y="827" width="3" height="1"/>
<rect x="385" y="841" width="3" height="1"/>
<rect x="391" y="827" width="3" height="1"/>
<rect x="391" y="841" width="3" height="1"/>
<rect x="397" y="827" width="3" height="1"/>
<rect x="397" y="841" width="3" height="1"/>
<rect x="403" y="827" width="3" height="1"/>
<rect x="403" y="841" width="3" height="1"/>
<rect x="409" y="827" width="3" height="1"/>
<rect x="409" y="841" width="3" height="1"/>
<rect x="415" y="827" width="3" height="1"/>
<rect x="415" y="841" width="3" height="1"/>
<rect x="421" y="827" width="3" height="1"/>
<rect x="421" y="841" width="3" height="1"/>
<rect x="427" y="827" width="3" height="1"/>
<rect x="427" y="841" width="3" height="1"/>
<rect x="433" y="827" width="3" height="1"/>
<rect x="433" y="841" width="3" height="1"/>
<rect x="439" y="827" width="3" height="1"/>
<rect x="439" y="841" width="3" height="1"/>
<rect x="445" y="827" width="3" height="1"/>
<rect x="445" y="841" width="3" height="1"/>
<rect x="451" y="827" width="3" height="1"/>
<rect x="451" y="841" width="3" height="1"/>
<rect x="457" y="827" width="3" height="1"/>
<rect x="457" y="841" width="3" height="1"/>
<rect x="463" y="827" width="3" height="1"/>
<rect x="463" y="841" width="3" height="1"/>
<rect x="469" y="827" width="3" height="1"/>
<rect x="469" y="841" width="3" height="1"/>
<rect x="475" y="827" width="3" height="1"/>
<rect x="475" y="841" width="3" height="1"/>
<rect x="481" y="827" width="3" height="1"/>
<rect x="481" y="841" width="3" height="1"/>
<rect x="487" y="827" width="3" height="1"/>
<rect x="487" y="841" width="3" height="1"/>
<rect x="493" y="827" width="3" height="1"/>
<rect x="493" y="841" width="3" height="1"/>
<rect x="499" y="827" width="3" height="1"/>
<rect x="499" y="841" width="3" height="1"/>
<rect x="505" y="827" width="3" height="1"/>
<rect x="505" y="841" width="3" height="1"/>
<rect x="511" y="827" width="3" height="1"/>
<rect x="511" y="841" width="3" height="1"/>
<rect x="517" y="827" width="3" height="1"/>
<rect x="517" y="841" width="3" height="1"/>
<rect x="523" y="827" width="3" height="1"/>
<rect x="523" y="841" width="3" height="1"/>
<rect x="529" y="827" width="3" height="1"/>
<rect x="529" y="841" width="3" height="1"/>
<rect x="535" y="827" width="3" height="1"/>
<rect x="535" y="841" width="3" height="1"/>
<rect x="541" y="827" width="3" height="1"/>
<rect x="541" y="841" width="3" height="1"/>
<rect x="547" y="827" width="3" height="1"/>
<rect x="547" y="841" width="3" height="1"/>
<rect x="553" y="827" width="3" height="1"/>
<rect x="553" y="841" width="3" height="1"/>
<rect x="559" y="827" width="3" height="1"/>
<rect x="559" y="841" width="3" height="1"/>
<rect x="565" y="827" width="3" height="1"/>
<rect x="565" y="841" width="3" height="1"/>
<rect x="571" y="827" width="3" height="1"/>
<rect x="571" y="841" width="3" height="1"/>
<rect x="577" y="827" width="3" height="1"/>
<rect x="577" y="841" width="3" height="1"/>
<rect x="583" y="827" width="3" height="1"/>
<rect x="583" y="841" width="3" height="1"/>
<rect x="589" y="827" width="3" height="1"/>
<rect x="589" y="841" width="3" height="1"/>
<rect x="595" y="827" width="3" height="1"/>
<rect x="595" y="841" width="3" height="1"/>
<rect x="601" y="827" width="3" height="1"/>
<rect x="601" y="841" width="3" height="1"/>
<rect x="607" y="827" width="3" height="1"/>
<rect x="607" y="841" width="3" height="1"/>
<rect x="613" y="827" width="3" height="1"/>
<rect x="613" y="841" width="3" height="1"/>
<rect x="619" y="827" width="3" height="1"/>
<rect x="619" y="841" width="3" height="1"/>
<rect x="625" y="827" width="3" height="1"/>
<rect x="625" y="841" width="3" height="1"/>
<rect x="631" y="827" width="3" height="1"/>
<rect x="631" y="841" width="3" height="1"/>
<rect x="637" y="827" width="3" height="1"/>
<rect x="637" y="841" width="3" height="1"/>
<rect x="643" y="827" width="3" height="1"/>
<rect x="643" y="841" width="3" height="1"/>
<rect x="649" y="827" width="3" height="1"/>
<rect x="649" y="841" width="3" height="1"/>
<rect x="655" y="827" width="3" height="1"/>
<rect x="655" y="841" width="3" height="1"/>
<rect x="661" y="827" width="3" height="1"/>
<rect x="661" y="841" width="3" height="1"/>
<rect x="667" y="827" width="3" height="1"/>
<rect x="667" y="841" width="3" height="1"/>
<rect x="673" y="827" width="3" height="1"/>
<rect x="673" y="841" width="3" height="1"/>
<rect x="679" y="827" width="3" height="1"/>
<rect x="679" y="841" width="3" height="1"/>
<rect x="685" y="827" width="3" height="1"/>
<rect x="685" y="841" width="3" height="1"/>
<rect x="691" y="827" width="3" height="1"/>
<rect x="691" y="841" width="3" height="1"/>
<rect x="697" y="827" width="3" height="1"/>
<rect x="697" y="841" width="3" height="1"/>
<rect x="703" y="827" width="3" height="1"/>
<rect x="703" y="841" width="3" height="1"/>
<rect x="709" y="827" width="3" height="1"/>
<rect x="709" y="841" width="3" height="1"/>
<rect x="715" y="827" width="3" height="1"/>
<rect x="715" y="841" width="3" height="1"/>
<rect x="721" y="827" width="3" height="1"/>
<rect x="721" y="841" width="3" height="1"/>
<rect x="727" y="827" width="3" height="1"/>
<rect x="727" y="841" width="3" height="1"/>
<rect x="733" y="827" width="3" height="1"/>
<rect x="733" y="841" width="3" height="1"/>
<rect x="739" y="827" width="3" height="1"/>
<rect x="739" y="841" width="3" height="1"/>
<rect x="745" y="827" width="3" height="1"/>
<rect x="745" y="841" width="3" height="1"/>
<rect x="751" y="827" width="3" height="1"/>
<rect x="751" y="841" width="3" height="1"/>
<rect x="757" y="827" width="3" height="1"/>
<rect x="757" y="841" width="3" height="1"/>
<rect x="763" y="827" width="3" height="1"/>
<rect x="763" y="841" width="3" height="1"/>
<rect x="769" y="827" width="3" height="1"/>
<rect x="769" y="841" width="3" height="1"/>
<rect x="775" y="827" width="3" height="1"/>
<rect x="775" y="841" width="3" height="1"/>
<rect x="781" y="827" width="3" height="1"/>
<rect x="781" y="841" width="3" height="1"/>
<rect x="787" y="827" width="3" height="1"/>
<rect x="787" y="841" width="3" height="1"/>
<rect x="793" y="827" width="3" height="1"/>
<rect x="793" y="841" width="3" height="1"/>
<rect x="799" y="827" width="3" height="1"/>
<rect x="799" y="841" width="3" height="1"/>
<rect x="805" y="827" width="3" height="1"/>
<rect x="805" y="841" width="3" height="1"/>
<rect x="811" y="827" width="3" height="1"/>
<rect x="811" y="841" width="3" height="1"/>
<rect x="817" y="827" width="3" height="1"/>
<rect x="817" y="841" width="3" height="1"/>
<rect x="823" y="827" width="3" height="1"/>
<rect x="823" y="841" width="3" height="1"/>
<rect x="829" y="827" width="3" height="1"/>
<rect x="829" y="841" width="3" height="1"/>
<rect x="835" y="827" width="3" height="1"/>
<rect x="835" y="841" width="3" height="1"/>
<rect x="841" y="827" width="3" height="1"/>
<rect x="841" y="841" width="3" height="1"/>
<rect x="847" y="827" width="3" height="1"/>
<rect x="847" y="841" width="3" height="1"/>
<rect x="853" y="827" width="3" height="1"/>
<rect x="853" y="841" width="3" height="1"/>
<rect x="859" y="827" width="3" height="1"/>
<rect x="859" y="841" width="3" height="1"/>
<rect x="865" y="827" width="3" height="1"/>
<rect x="865" y="841" width="3" height="1"/>
<rect x="871" y="827" width="3" height="1"/>
<rect x="871" y="841" width="3" height="1"/>
<rect x="877" y="827" width="3" height="1"/>
<rect x="877" y="841" width="3" height="1"/>
<rect x="883" y="827" width="3" height="1"/>
<rect x="883" y="841" width="3" height="1"/>
<rect x="889" y="827" width="3" height="1"/>
<rect x="889" y="841" width="3" height="1"/>
<rect x="895" y="827" width="3" height="1"/>
<rect x="895" y="841" width="3" height="1"/>
<rect x="901" y="827" width="3" height="1"/>
<rect x="901" y="841" width="3" height="1"/>
<rect x="907" y="827" width="3" height="1"/>
<rect x="907" y="841" width="3" height="1"/>
<rect x="913" y="827" width="3" height="1"/>
<rect x="913" y="841" width="3" height="1"/>
<rect x="919" y="827" width="3" height="1"/>
<rect x="919" y="841" width="3" height="1"/>
<rect x="925" y="827" width="3" height="1"/>
<rect x="925" y="841" width="3" height="1"/>
<rect x="931" y="827" width="3" height="1"/>
<rect x="931" y="841" width="3" height="1"/>
<rect x="937" y="827" width="3" height="1"/>
<rect x="937" y="841" width="3" height="1"/>
<rect x="943" y="827" width="3" height="1"/>
<rect x="943" y="841" width="3" height="1"/>
<rect x="949" y="827" width="3" height="1"/>
<rect x="949" y="841" width="3" height="1"/>
<rect x="955" y="827" width="3" height="1"/>
<rect x="955" y="841" width="3" height="1"/>
<rect x="961" y="827" width="3" height="1"/>
<rect x="961" y="841" width="3" height="1"/>
<rect x="967" y="827" width="3" height="1"/>
<rect x="967" y="841" width="3" height="1"/>
<rect x="973" y="827" width="3" height="1"/>
<rect x="973" y="841" width="3" height="1"/>
<rect x="979" y="827" width="3" height="1"/>
<rect x="979" y="841" width="3" height="1"/>
<rect x="985" y="827" width="3" height="1"/>
<rect x="985" y="841" width="3" height="1"/>
<rect x="991" y="827" width="3" height="1"/>
<rect x="991" y="841" width="3" height="1"/>
<rect x="997" y="827" width="3" height="1"/>
<rect x="997" y="841" width="3" height="1"/>
<rect x="1003" y="827" width="3" height="1"/>
<rect x="1003" y="841" width="3" height="1"/>
<rect x="1009" y="827" width="3" height="1"/>
<rect x="1009" y="841" width="3" height="1"/>
<rect x="1015" y="827" width="3" height="1"/>
<rect x="1015" y="841" width="3" height="1"/>
<rect x="1021" y="827" width="3" height="1"/>
<rect x="1021" y="841" width="3" height="1"/>
<rect x="1027" y="827" width="3" height="1"/>
<rect x="1027" y="841" width="3" height="1"/>
<rect x="1033" y="827" width="3" height="1"/>
<rect x="1033" y="841" width="3" height="1"/>
<rect x="1039" y="827" width="3" height="1"/>
<rect x="1039" y="841" width="3" height="1"/>
<rect x="1045" y="827" width="3" height="1"/>
<rect x="1045" y="841" width="3" height="1"/>
<rect x="1051" y="827" width="3" height="1"/>
<rect x="1051" y="841" width="3" height="1"/>
<rect x="1057" y="827" width="3" height="1"/>
<rect x="1057" y="841" width="3" height="1"/>
<rect x="1063" y="827" width="3" height="1"/>
<rect x="1063" y="841" width="3" height="1"/>
<rect x="1069" y="827" width="3" height="1"/>
<rect x="1069" y="841" width="3" height="1"/>
<rect x="1075" y="827" width="3" height="1"/>
<rect x="1075" y="841" width="3" height="1"/>
<rect x="1081" y="827" width="3" height="1"/>
<rect x="1081" y="841" width="3" height="1"/>
<rect x="1087" y="827" width="3" height="1"/>
<rect x="1087" y="841" width="3" height="1"/>
<rect x="1093" y="827" width="3" height="1"/>
<rect x="1093" y="841" width="3" height="1"/>
<rect x="1099" y="827" width="3" height="1"/>
<rect x="1099" y="841" width="3" height="1"/>
<rect x="1105" y="827" width="3" height="1"/>
<rect x="1105" y="841" width="3" height="1"/>
<rect x="1111" y="827" width="3" height="1"/>
<rect x="1111" y="841" width="3" height="1"/>
<rect x="1117" y="827" width="3" height="1"/>
<rect x="1117" y="841" width="3" height="1"/>
<rect x="1123" y="827" width="3" height="1"/>
<rect x="1123" y="841" width="3" height="1"/>
<rect x="1129" y="827" width="3" height="1"/>
<rect x="1129" y="841" width="3" height="1"/>
<rect x="1135" y="827" width="3" height="1"/>
<rect x="1135" y="841" width="3" height="1"/>
<rect x="1141" y="827" width="3" height="1"/>
<rect x="1141" y="841" width="3" height="1"/>
<rect x="1147" y="827" width="3" height="1"/>
<rect x="1147" y="841" width="3" height="1"/>
<rect x="1153" y="827" width="3" height="1"/>
<rect x="1153" y="841" width="3" height="1"/>
<rect x="1159" y="827" width="3" height="1"/>
<rect x="1159" y="841" width="3" height="1"/>
<rect x="1165" y="827" width="3" height="1"/>
<rect x="1165" y="841" width="3" height="1"/>
<rect x="1171" y="827" width="3" height="1"/>
<rect x="1171" y="841" width="3" height="1"/>
<rect x="1177" y="827" width="3" height="1"/>
<rect x="1177" y="841" width="3" height="1"/>
<rect x="1183" y="827" width="3" height="1"/>
<rect x="1183" y="841" width="3" height="1"/>
<rect x="1189" y="827" width="3" height="1"/>
<rect x="1189" y="841" width="3" height="1"/>
<rect x="1195" y="827" width="3" height="1"/>
<rect x="1195" y="841" width="3" height="1"/>
<rect x="1201" y="827" width="3" height="1"/>
<rect x="1201" y="841" width="3" height="1"/>
<rect x="1207" y="827" width="3" height="1"/>
<rect x="1207" y="841" width="3" height="1"/>
<rect x="1213" y="827" width="3" height="1"/>
<rect x="1213" y="841" width="3" height="1"/>
<rect x="1219" y="827" width="3" height="1"/>
<rect x="1219" y="841" width="3" height="1"/>
<rect x="1225" y="827" width="3" height="1"/>
<rect x="1225" y="841" width="3" height="1"/>
<rect x="1231" y="827" width="3" height="1"/>
<rect x="1231" y="841" width="3" height="1"/>
<rect x="1237" y="827" width="3" height="1"/>
<rect x="1237" y="841" width="3" height="1"/>
<rect x="1243" y="827" width="3" height="1"/>
<rect x="1243" y="841" width="3" height="1"/>
<rect x="1249" y="827" width="3" height="1"/>
<rect x="1249" y="841" width="3" height="1"/>
<rect x="1255" y="827" width="3" height="1"/>
<rect x="1255" y="841" width="3" height="1"/>
<rect x="1261" y="827" width="3" height="1"/>
<rect x="1261" y="841" width="3" height="1"/>
<rect x="1267" y="827" width="3" height="1"/>
<rect x="1267" y="841" width="3" height="1"/>
<rect x="1273" y="827" width="3" height="1"/>
<rect x="1273" y="841" width="3" height="1"/>
<rect x="1279" y="827" width="3" height="1"/>
<rect x="1279" y="841" width="3" height="1"/>
<rect x="1285" y="827" width="3" height="1"/>
<rect x="1285" y="841" width="3" height="1"/>
<rect x="1291" y="827" width="3" height="1"/>
<rect x="1291" y="841" width="3" height="1"/>
<rect x="1297" y="827" width="3" height="1"/>
<rect x="1297" y="841" width="3" height="1"/>
<rect x="1303" y="827" width="3" height="1"/>
<rect x="1303" y="841" width="3" height="1"/>
<rect x="1309" y="827" width="3" height="1"/>
<rect x="1309" y="841" width="3" height="1"/>
<rect x="1315" y="827" width="3" height="1"/>
<rect x="1315" y="841" width="3" height="1"/>
<rect x="1321" y="827" width="3" height="1"/>
<rect x="1321" y="841" width="3" height="1"/>
<rect x="1327" y="827" width="3" height="1"/>
<rect x="1327" y="841" width="3" height="1"/>
<rect x="1333" y="827" width="3" height="1"/>
<rect x="1333" y="841" width="3" height="1"/>
<rect x="1339" y="827" width="3" height="1"/>
<rect x="1339" y="841" width="3" height="1"/>
<rect x="1345" y="827" width="3" height="1"/>
<rect x="1345" y="841" width="3" height="1"/>
<rect x="1351" y="827" width="3" height="1"/>
<rect x="1351" y="841" width="3" height="1"/>
<rect x="1357" y="827" width="3" height="1"/>
<rect x="1357" y="841" width="3" height="1"/>
<rect x="1363" y="827" width="3" height="1"/>
<rect x="1363" y="841" width="3" height="1"/>
<rect x="1369" y="827" width="3" height="1"/>
<rect x="1369" y="841" width="3" height="1"/>
<rect x="1375" y="827" width="3" height="1"/>
<rect x="1375" y="841" width="3" height="1"/>
<rect x="1381" y="827" width="3" height="1"/>
<rect x="1381" y="841" width="3" height="1"/>
<rect x="1387" y="827" width="3" height="1"/>
<rect x="1387" y="841" width="3" height="1"/>
<rect x="1393" y="827" width="3" height="1"/>
<rect x="1393" y="841" width="3" height="1"/>
<rect x="1399" y="827" width="3" height="1"/>
<rect x="1399" y="841" width="3" height="1"/>
<rect x="1405" y="827" width="3" height="1"/>
<rect x="1405" y="841" width="3" height="1"/>
<rect x="1411" y="827" width="3" height="1"/>
<rect x="1411" y="841" width="3" height="1"/>
<rect x="1417" y="827" width="3" height="1"/>
<rect x="1417" y="841" width="3" height="1"/>
<rect x="1423" y="827" width="3" height="1"/>
<rect x="1423" y="841" width="3" height="1"/>
<rect x="1429" y="827" width="3" height="1"/>
<rect x="1429" y="841" width="3" height="1"/>
<rect x="1435" y="827" width="3" height="1"/>
<rect x="1435" y="841" width="3" height="1"/>
<rect x="1441" y="827" width="3" height="1"/>
<rect x="1441" y="841" width="3" height="1"/>
<rect x="1447" y="827" width="3" height="1"/>
<rect x="1447" y="841" width="3" height="1"/>
<rect x="1453" y="827" width="3" height="1"/>
<rect x="1453" y="841" width="3" height="1"/>
<rect x="1459" y="827" width="3" height="1"/>
<rect x="1459" y="841" width="3" height="1"/>
<rect x="1465" y="827" width="3" height="1"/>
<rect x="1465" y="841" width="3" height="1"/>
<rect x="1471" y="827" width="3" height="1"/>
<rect x="1471" y="841" width="3" height="1"/>
<rect x="1477" y="827" width="3" height="1"/>
<rect x="1477" y="841" width="3" height="1"/>
<rect x="1483" y="827" width="3" height="1"/>
<rect x="1483" y="841" width="3" height="1"/>
<rect x="1489" y="827" width="3" height="1"/>
<rect x="1489" y="841" width="3" height="1"/>
<rect x="1495" y="827" width="3" height="1"/>
<rect x="1495" y="841" width="3" height="1"/>
<rect x="1501" y="827" width="3" height="1"/>
<rect x="1501" y="841" width="3" height="1"/>
<rect x="1507" y="827" width="3" height="1"/>
<rect x="1507" y="841" width="3" height="1"/>
<rect x="1513" y="827" width="3" height="1"/>
<rect x="1513" y="841" width="3" height="1"/>
<rect x="1519" y="827" width="3" height="1"/>
<rect x="1519" y="841" width="3" height="1"/>
<rect x="1525" y="827" width="3" height="1"/>
<rect x="1525" y="841" width="3" height="1"/>
<rect x="1531" y="827" width="3" height="1"/>
<rect x="1531" y="841" width="3" height="1"/>
<rect x="1537" y="827" width="3" height="1"/>
<rect x="1537" y="841" width="3" height="1"/>
<rect x="1543" y="827" width="3" height="1"/>
<rect x="1543" y="841" width="3" height="1"/>
<rect x="1549" y="827" width="3" height="1"/>
<rect x="1549" y="841" width="3" height="1"/>
<rect x="1555" y="827" width="3" height="1"/>
<rect x="1555" y="841" width="3" height="1"/>
<rect x="1561" y="827" width="3" height="1"/>
<rect x="1561" y="841" width="3" height="1"/>
<rect x="1567" y="827" width="3" height="1"/>
<rect x="1567" y="841" width="3" height="1"/>
<rect x="1573" y="827" width="3" height="1"/>
<rect x="1573" y="841" width="3" height="1"/>
<rect x="1579" y="827" width="3" height="1"/>
<rect x="1579" y="841" width="3" height="1"/>
<rect x="1585" y="827" width="3" height="1"/>
<rect x="1585" y="841" width="3" height="1"/>
<rect x="1591" y="827" width="3" height="1"/>
<rect x="1591" y="841" width="3" height="1"/>
<rect x="1597" y="827" width="3" height="1"/>
<rect x="1597" y="841" width="3" height="1"/>
<rect x="1603" y="827" width="3" height="1"/>
<rect x="1603" y="841" width="3" height="1"/>
<rect x="1609" y="827" width="3" height="1"/>
<rect x="1609" y="841" width="3" height="1"/>
<rect x="1615" y="827" width="3" height="1"/>
<rect x="1615" y="841" width="3" height="1"/>
<rect x="1621" y="827" width="3" height="1"/>
<rect x="1621" y="841" width="3" height="1"/>
<rect x="1627" y="827" width="3" height="1"/>
<rect x="1627" y="841" width="3" height="1"/>
<rect x="1633" y="827" width="3" height="1"/>
<rect x="1633" y="841" width="3" height="1"/>
<rect x="1639" y="827" width="3" height="1"/>
<rect x="1639" y="841" width="3" height="1"/>
<rect x="1645" y="827" width="3" height="1"/>
<rect x="1645" y="841" width="3" height="1"/>
<rect x="1651" y="827" width="3" height="1"/>
<rect x="1651" y="841" width="3" height="1"/>
<rect x="1657" y="827" width="3" height="1"/>
<rect x="1657" y="841" width="3" height="1"/>
<rect x="1663" y="827" width="3" height="1"/>
<rect x="1663" y="841" width="3" height="1"/>
<rect x="1669" y="827" width="3" height="1"/>
<rect x="1669" y="841" width="3" height="1"/>
<rect x="1675" y="827" width="3" height="1"/>
<rect x="1675" y="841" width="3" height="1"/>
<rect x="1681" y="827" width="3" height="1"/>
<rect x="1681" y="841" width="3" height="1"/>
<rect x="1687" y="827" width="3" height="1"/>
<rect x="1687" y="841" width="3" height="1"/>
<rect x="1693" y="827" width="3" height="1"/>
<rect x="1693" y="841" width="3" height="1"/>
<rect x="1699" y="827" width="3" height="1"/>
<rect x="1699" y="841" width="3" height="1"/>
</g>
<g shape-rendering="crispEdges" fill="#3cb371">
<rect x="-1" y="789" width="3" height="11"/>
<rect x="3" y="789" width="3" height="13"/>
<rect x="7" y="789" width="3" height="14"/>
<rect x="11" y="789" width="3" height="15"/>
<rect x="15" y="789" width="3" height="16"/>
<rect x="19" y="789" width="3" height="15"/>
<rect x="23" y="789" width="3" height="15"/>
<rect x="27" y="789" width="3" height="15"/>
<rect x="31" y="789" width="3" height="13"/>
<rect x="35" y="789" width="3" height="11"/>
<rect x="39" y="789" width="3" height="9"/>
<rect x="43" y="789" width="3" height="8"/>
<rect x="47" y="789" width="3" height="7"/>
<rect x="51" y="789" width="3" height="7"/>
<rect x="55" y="789" width="3" height="7"/>
<rect x="59" y="789" width="3" height="7"/>
<rect x="63" y="789" width="3" height="7"/>
<rect x="67" y="789" width="3" height="8"/>
<rect x="71" y="789" width="3" height="9"/>
<rect x="75" y="789" width="3" height="11"/>
<rect x="79" y="789" width="3" height="11"/>
<rect x="83" y="789" width="3" height="11"/>
<rect x="87" y="789" width="3" height="11"/>
<rect x="91" y="789" width="3" height="11"/>
<rect x="95" y="789" width="3" height="11"/>
<rect x="99" y="789" width="3" height="10"/>
<rect x="103" y="789" width="3" height="10"/>
<rect x="107" y="789" width="3" height="10"/>
<rect x="111" y="789" width="3" height="10"/>
<rect x="115" y="789" width="3" height="10"/>
<rect x="119" y="789" width="3" height="10"/>
<rect x="123" y="789" width="3" height="11"/>
<rect x="127" y="789" width="3" height="11"/>
<rect x="131" y="789" width="3" height="10"/>
<rect x="135" y="789" width="3" height="9"/>
<rect x="139" y="789" width="3" height="9"/>
<rect x="143" y="789" width="3" height="9"/>
<rect x="147" y="789" width="3" height="9"/>
<rect x="151" y="789" width="3" height="8"/>
<rect x="155" y="789" width="3" height="8"/>
<rect x="159" y="789" width="3" height="7"/>
<rect x="163" y="789" width="3" height="8"/>
<rect x="167" y="789" width="3" height="7"/>
<rect x="171" y="789" width="3" height="6"/>
<rect x="175" y="789" width="3" height="4"/>
<rect x="179" y="789" width="3" height="2"/>
<rect x="183" y="789" width="3" height="1"/>
<rect x="187" y="786" width="3" height="3"/>
<rect x="191" y="783" width="3" height="6"/>
<rect x="195" y="781" width="3" height="8"/>
<rect x="199" y="779" width="3" height="10"/>
<rect x="203" y="779" width="3" height="10"/>
<rect x="207" y="778" width="3" height="11"/>
<rect x="211" y="777" width="3" height="12"/>
<rect x="215" y="777" width="3" height="12"/>
<rect x="219" y="777" width="3" height="12"/>
<rect x="223" y="778" width="3" height="11"/>
<rect x="227" y="777" width="3" height="12"/>
<rect x="231" y="778" width="3" height="11"/>
<rect x="235" y="778" width="3" height="11"/>
<rect x="239" y="778" width="3" height="11"/>
<rect x="243" y="778" width="3" height="11"/>
<rect x="247" y="778" width="3" height="11"/>
<rect x="251" y="778" width="3" height="11"/>
<rect x="255" y="778" width="3" height="11"/>
<rect x="259" y="780" width="3" height="9"/>
<rect x="263" y="779" width="3" height="10"/>
<rect x="267" y="778" width="3" height="11"/>
<rect x="271" y="778" width="3" height="11"/>
<rect x="275" y="778" width="3" height="11"/>
<rect x="279" y="778" width="3" height="11"/>
<rect x="283" y="778" width="3" height="11"/>
<rect x="287" y="778" width="3" height="11"/>
<rect x="291" y="778" width="3" height="11"/>
<rect x="295" y="778" width="3" height="11"/>
<rect x="299" y="778" width="3" height="11"/>
<rect x="303" y="778" width="3" height="11"/>
<rect x="307" y="778" width="3" height="11"/>
<rect x="311" y="781" width="3" height="8"/>
<rect x="315" y="784" width="3" height="5"/>
<rect x="319" y="786" width="3" height="3"/>
<rect x="323" y="787" width="3" height="2"/>
<rect x="327" y="787" width="3" height="2"/>
<rect x="331" y="788" width="3" height="1"/>
<rect x="335" y="788" width="3" height="1"/>
<rect x="339" y="788" width="3" height="1"/>
<rect x="343" y="789" width="3" height="1"/>
<rect x="347" y="789" width="3" height="1"/>
<rect x="351" y="789" width="3" height="1"/>
<rect x="355" y="789" width="3" height="1"/>
<rect x="359" y="788" width="3" height="1"/>
<rect x="363" y="787" width="3" height="2"/>
<rect x="367" y="786" width="3" height="3"/>
<rect x="371" y="784" width="3" height="5"/>
<rect x="375" y="783" width="3" height="6"/>
<rect x="379" y="783" width="3" height="6"/>
<rect x="383" y="778" width="3" height="11"/>
<rect x="387" y="774" width="3" height="15"/>
<rect x="391" y="769" width="3" height="20"/>
<rect x="395" y="765" width="3" height="24"/>
<rect x="399" y="762" width="3" height="27"/>
<rect x="403" y="760" width="3" height="29"/>
<rect x="407" y="759" width="3" height="30"/>
<rect x="411" y="757" width="3" height="32"/>
<rect x="415" y="756" width="3" height="33"/>
<rect x="419" y="756" width="3" height="33"/>
<rect x="423" y="756" width="3" height="33"/>
<rect x="427" y="757" width="3" height="32"/>
<rect x="431" y="757" width="3" height="32"/>
<rect x="435" y="757" width="3" height="32"/>
<rect x="439" y="757" width="3" height="32"/>
<rect x="443" y="758" width="3" height="31"/>
<rect x="447" y="759" width="3" height="30"/>
<rect x="451" y="761" width="3" height="28"/>
<rect x="455" y="764" width="3" height="25"/>
<rect x="459" y="766" width="3" height="23"/>
<rect x="463" y="768" width="3" height="21"/>
<rect x="467" y="770" width="3" height="19"/>
<rect x="471" y="771" width="3" height="18"/>
<rect x="475" y="773" width="3" height="16"/>
<rect x="479" y="774" width="3" height="15"/>
<rect x="483" y="774" width="3" height="15"/>
<rect x="487" y="775" width="3" height="14"/>
<rect x="491" y="776" width="3" height="13"/>
<rect x="495" y="777" width="3" height="12"/>
<rect x="499" y="778" width="3" height="11"/>
<rect x="503" y="780" width="3" height="9"/>
<rect x="507" y="783" width="3" height="6"/>
<rect x="511" y="785" width="3" height="4"/>
<rect x="515" y="787" width="3" height="2"/>
<rect x="519" y="789" width="3" height="2"/>
<rect x="523" y="789" width="3" height="3"/>
<rect x="527" y="789" width="3" height="4"/>
<rect x="531" y="789" width="3" height="4"/>
<rect x="535" y="789" width="3" height="4"/>
<rect x="539" y="789" width="3" height="4"/>
<rect x="543" y="789" width="3" height="5"/>
<rect x="547" y="789" width="3" height="7"/>
<rect x="551" y="789" width="3" height="9"/>
<rect x="555" y="789" width="3" height="11"/>
<rect x="559" y="789" width="3" height="14"/>
<rect x="563" y="789" width="3" height="17"/>
<rect x="567" y="789" width="3" height="18"/>
<rect x="571" y="789" width="3" height="19"/>
<rect x="575" y="789" width="3" height="21"/>
<rect x="579" y="789" width="3" height="22"/>
<rect x="583" y="789" width="3" height="22"/>
<rect x="587" y="789" width="3" height="23"/>
<rect x="591" y="789" width="3" height="23"/>
<rect x="595" y="789" width="3" height="22"/>
<rect x="599" y="789" width="3" height="19"/>
<rect x="603" y="789" width="3" height="17"/>
<rect x="607" y="789" width="3" height="15"/>
<rect x="611" y="789" width="3" height="13"/>
<rect x="615" y="789" width="3" height="12"/>
<rect x="619" y="789" width="3" height="11"/>
<rect x="623" y="789" width="3" height="11"/>
<rect x="627" y="789" width="3" height="9"/>
<rect x="631" y="789" width="3" height="9"/>
<rect x="635" y="789" width="3" height="9"/>
<rect x="639" y="789" width="3" height="9"/>
<rect x="643" y="789" width="3" height="10"/>
<rect x="647" y="789" width="3" height="12"/>
<rect x="651" y="789" width="3" height="13"/>
<rect x="655" y="789" width="3" height="13"/>
<rect x="659" y="789" width="3" height="13"/>
<rect x="663" y="789" width="3" height="13"/>
<rect x="667" y="789" width="3" height="14"/>
<rect x="671" y="789" width="3" height="14"/>
<rect x="675" y="789" width="3" height="13"/>
<rect x="679" y="789" width="3" height="12"/>
<rect x="683" y="789" width="3" height="11"/>
<rect x="687" y="789" width="3" height="10"/>
<rect x="691" y="789" width="3" height="8"/>
<rect x="695" y="789" width="3" height="8"/>
<rect x="699" y="789" width="3" height="8"/>
<rect x="703" y="789" width="3" height="8"/>
<rect x="707" y="789" width="3" height="8"/>
<rect x="711" y="789" width="3" height="7"/>
<rect x="715" y="789" width="3" height="7"/>
<rect x="719" y="789" width="3" height="6"/>
<rect x="723" y="789" width="3" height="6"/>
<rect x="727" y="789" width="3" height="5"/>
<rect x="731" y="789" width="3" height="5"/>
<rect x="735" y="789" width="3" height="4"/>
<rect x="739" y="789" width="3" height="1"/>
<rect x="743" y="788" width="3" height="1"/>
<rect x="747" y="788" width="3" height="1"/>
<rect x="751" y="788" width="3" height="1"/>
<rect x="755" y="787" width="3" height="2"/>
<rect x="759" y="786" width="3" height="3"/>
<rect x="763" y="785" width="3" height="4"/>
<rect x="767" y="784" width="3" height="5"/>
<rect x="771" y="784" width="3" height="5"/>
<rect x="775" y="783" width="3" height="6"/>
<rect x="779" y="782" width="3" height="7"/>
<rect x="783" y="782" width="3" height="7"/>
<rect x="787" y="782" width="3" height="7"/>
<rect x="791" y="782" width="3" height="7"/>
<rect x="795" y="782" width="3" height="7"/>
<rect x="799" y="782" width="3" height="7"/>
<rect x="803" y="781" width="3" height="8"/>
<rect x="807" y="781" width="3" height="8"/>
<rect x="811" y="781" width="3" height="8"/>
<rect x="815" y="782" width="3" height="7"/>
<rect x="819" y="782" width="3" height="7"/>
<rect x="823" y="782" width="3" height="7"/>
<rect x="827" y="782" width="3" height="7"/>
<rect x="831" y="782" width="3" height="7"/>
<rect x="835" y="785" width="3" height="4"/>
<rect x="839" y="785" width="3" height="4"/>
<rect x="843" y="785" width="3" height="4"/>
<rect x="847" y="786" width="3" height="3"/>
<rect x="851" y="786" width="3" height="3"/>
<rect x="855" y="787" width="3" height="2"/>
<rect x="859" y="788" width="3" height="1"/>
<rect x="863" y="789" width="3" height="2"/>
<rect x="867" y="789" width="3" height="2"/>
<rect x="871" y="789" width="3" height="1"/>
<rect x="875" y="789" width="3" height="2"/>
<rect x="879" y="789" width="3" height="1"/>
<rect x="883" y="789" width="3" height="1"/>
<rect x="887" y="789" width="3" height="1"/>
<rect x="891" y="789" width="3" height="3"/>
<rect x="895" y="789" width="3" height="5"/>
<rect x="899" y="789" width="3" height="5"/>
<rect x="903" y="789" width="3" height="4"/>
<rect x="907" y="789" width="3" height="4"/>
<rect x="911" y="789" width="3" height="5"/>
<rect x="915" y="789" width="3" height="6"/>
<rect x="919" y="789" width="3" height="6"/>
<rect x="923" y="789" width="3" height="6"/>
<rect x="927" y="789" width="3" height="7"/>
<rect x="931" y="789" width="3" height="5"/>
<rect x="935" y="789" width="3" height="4"/>
<rect x="939" y="789" width="3" height="3"/>
<rect x="943" y="789" width="3" height="3"/>
<rect x="947" y="789" width="3" height="3"/>
<rect x="951" y="789" width="3" height="4"/>
<rect x="955" y="789" width="3" height="4"/>
<rect x="959" y="789" width="3" height="5"/>
<rect x="963" y="789" width="3" height="5"/>
<rect x="967" y="789" width="3" height="6"/>
<rect x="971" y="789" width="3" height="7"/>
<rect x="975" y="789" width="3" height="7"/>
<rect x="979" y="789" width="3" height="7"/>
<rect x="983" y="789" width="3" height="5"/>
<rect x="987" y="789" width="3" height="3"/>
<rect x="991" y="789" width="3" height="2"/>
<rect x="995" y="789" width="3" height="1"/>
<rect x="999" y="788" width="3" height="1"/>
<rect x="1003" y="787" width="3" height="2"/>
<rect x="1007" y="785" width="3" height="4"/>
<rect x="1011" y="784" width="3" height="5"/>
<rect x="1015" y="784" width="3" height="5"/>
<rect x="1019" y="784" width="3" height="5"/>
<rect x="1023" y="784" width="3" height="5"/>
<rect x="1027" y="784" width="3" height="5"/>
<rect x="1031" y="784" width="3" height="5"/>
<rect x="1035" y="783" width="3" height="6"/>
<rect x="1039" y="783" width="3" height="6"/>
<rect x="1043" y="782" width="3" height="7"/>
<rect x="1047" y="782" width="3" height="7"/>
<rect x="1051" y="782" width="3" height="7"/>
<rect x="1055" y="782" width="3" height="7"/>
<rect x="1059" y="782" width="3" height="7"/>
<rect x="1063" y="781" width="3" height="8"/>
<rect x="1067" y="781" width="3" height="8"/>
<rect x="1071" y="782" width="3" height="7"/>
<rect x="1075" y="782" width="3" height="7"/>
<rect x="1079" y="781" width="3" height="8"/>
<rect x="1083" y="780" width="3" height="9"/>
<rect x="1087" y="780" width="3" height="9"/>
<rect x="1091" y="780" width="3" height="9"/>
<rect x="1095" y="780" width="3" height="9"/>
<rect x="1099" y="780" width="3" height="9"/>
<rect x="1103" y="780" width="3" height="9"/>
<rect x="1107" y="781" width="3" height="8"/>
<rect x="1111" y="782" width="3" height="7"/>
<rect x="1115" y="783" width="3" height="6"/>
<rect x="1119" y="783" width="3" height="6"/>
<rect x="1123" y="784" width="3" height="5"/>
<rect x="1127" y="785" width="3" height="4"/>
<rect x="1131" y="785" width="3" height="4"/>
<rect x="1135" y="785" width="3" height="4"/>
<rect x="1139" y="785" width="3" height="4"/>
<rect x="1143" y="784" width="3" height="5"/>
<rect x="1147" y="783" width="3" height="6"/>
<rect x="1151" y="783" width="3" height="6"/>
<rect x="1155" y="783" width="3" height="6"/>
<rect x="1159" y="783" width="3" height="6"/>
<rect x="1163" y="783" width="3" height="6"/>
<rect x="1167" y="783" width="3" height="6"/>
<rect x="1171" y="783" width="3" height="6"/>
<rect x="1175" y="783" width="3" height="6"/>
<rect x="1179" y="784" width="3" height="5"/>
<rect x="1183" y="786" width="3" height="3"/>
<rect x="1187" y="787" width="3" height="2"/>
<rect x="1191" y="788" width="3" height="1"/>
<rect x="1195" y="787" width="3" height="2"/>
<rect x="1199" y="786" width="3" height="3"/>
<rect x="1203" y="786" width="3" height="3"/>
<rect x="1207" y="787" width="3" height="2"/>
<rect x="1211" y="787" width="3" height="2"/>
<rect x="1215" y="787" width="3" height="2"/>
<rect x="1219" y="785" width="3" height="4"/>
<rect x="1223" y="784" width="3" height="5"/>
<rect x="1227" y="783" width="3" height="6"/>
<rect x="1231" y="782" width="3" height="7"/>
<rect x="1235" y="781" width="3" height="8"/>
<rect x="1239" y="781" width="3" height="8"/>
<rect x="1243" y="782" width="3" height="7"/>
<rect x="1247" y="783" width="3" height="6"/>
<rect x="1251" y="785" width="3" height="4"/>
<rect x="1255" y="785" width="3" height="4"/>
<rect x="1259" y="788" width="3" height="1"/>
<rect x="1263" y="789" width="3" height="2"/>
<rect x="1267" y="789" width="3" height="2"/>
<rect x="1271" y="789" width="3" height="2"/>
<rect x="1275" y="789" width="3" height="2"/>
<rect x="1279" y="789" width="3" height="4"/>
<rect x="1283" y="789" width="3" height="7"/>
<rect x="1287" y="789" width="3" height="9"/>
<rect x="1291" y="789" width="3" height="11"/>
<rect x="1295" y="789" width="3" height="12"/>
<rect x="1299" y="789" width="3" height="12"/>
<rect x="1303" y="789" width="3" height="12"/>
<rect x="1307" y="789" width="3" height="11"/>
<rect x="1311" y="789" width="3" height="9"/>
<rect x="1315" y="789" width="3" height="9"/>
<rect x="1319" y="789" width="3" height="9"/>
<rect x="1323" y="789" width="3" height="9"/>
<rect x="1327" y="789" width="3" height="9"/>
</g>
<polyline points="0,793.5 4,794.5 8,796.5 12,798.5 16,799.5 20,800.5 24,801.5 28,802.5 32,802.5 36,802.5 40,802.5 44,802.5 48,801.5 52,800.5 56,799.5 60,798.5 64,798.5 68,797.5 72,797.5 76,797.5 80,797.5 84,797.5 88,797.5 92,798.5 96,798.5 100,799.5 104,799.5 108,799.5 112,799.5 116,799.5 120,799.5 124,799.5 128,799.5 132,799.5 136,799.5 140,799.5 144,799.5 148,799.5 152,798.5 156,798.5 160,798.5 164,797.5 168,797.5 172,796.5 176,796.5 180,795.5 184,794.5 188,793.5 192,791.5 196,790.5 200,788.5 204,786.5 208,784.5 212,782.5 216,781.5 220,780.5 224,779.5 228,779.5 232,778.5 236,777.5 240,777.5 244,777.5 248,777.5 252,777.5 256,777.5 260,778.5 264,778.5 268,779.5 272,779.5 276,779.5 280,779.5 284,779.5 288,779.5 292,779.5 296,779.5 300,779.5 304,778.5 308,778.5 312,779.5 316,779.5 320,779.5 324,781.5 328,782.5 332,782.5 336,784.5 340,785.5 344,786.5 348,787.5 352,787.5 356,788.5 360,788.5 364,788.5 368,788.5 372,788.5 376,787.5 380,786.5 384,785.5 388,783.5 392,780.5 396,778.5 400,775.5 404,772.5 408,769.5 412,766.5 416,763.5 420,761.5 424,760.5 428,759.5 432,758.5 436,757.5 440,757.5 444,757.5 448,757.5 452,758.5 456,758.5 460,759.5 464,761.5 468,762.5 472,764.5 476,766.5 480,767.5 484,768.5 488,770.5 492,771.5 496,772.5 500,774.5 504,775.5 508,776.5 512,777.5 516,779.5 520,780.5 524,782.5 528,783.5 532,785.5 536,787.5 540,788.5 544,790.5 548,791.5 552,792.5 556,794.5 560,795.5 564,797.5 568,798.5 572,800.5 576,802.5 580,804.5 584,806.5 588,807.5 592,808.5 596,808.5 600,809.5 604,809.5 608,808.5 612,807.5 616,806.5 620,805.5 624,804.5 628,802.5 632,801.5 636,800.5 640,799.5 644,799.5 648,798.5 652,799.5 656,799.5 660,799.5 664,800.5 668,800.5 672,800.5 676,801.5 680,801.5 684,801.5 688,801.5 692,801.5 696,800.5 700,799.5 704,799.5 708,798.5 712,797.5 716,797.5 720,796.5 724,796.5 728,795.5 732,795.5 736,794.5 740,793.5 744,792.5 748,791.5 752,791.5 756,790.5 760,789.5 764,788.5 768,787.5 772,787.5 776,786.5 780,785.5 784,785.5 788,784.5 792,784.5 796,783.5 800,783.5 804,782.5 808,782.5 812,782.5 816,781.5 820,781.5 824,781.5 828,781.5 832,781.5 836,781.5 840,781.5 844,782.5 848,782.5 852,783.5 856,784.5 860,785.5 864,785.5 868,786.5 872,787.5 876,787.5 880,788.5 884,788.5 888,789.5 892,789.5 896,790.5 900,790.5 904,791.5 908,791.5 912,792.5 916,792.5 920,793.5 924,793.5 928,794.5 932,793.5 936,793.5 940,793.5 944,793.5 948,793.5 952,793.5 956,792.5 960,792.5 964,792.5 968,792.5 972,793.5 976,793.5 980,793.5 984,794.5 988,794.5 992,793.5 996,793.5 1000,792.5 1004,791.5 1008,790.5 1012,789.5 1016,788.5 1020,787.5 1024,786.5 1028,786.5 1032,785.5 1036,785.5 1040,784.5 1044,783.5 1048,783.5 1052,783.5 1056,783.5 1060,783.5 1064,782.5 1068,782.5 1072,782.5 1076,782.5 1080,782.5 1084,781.5 1088,781.5 1092,781.5 1096,780.5 1100,780.5 1104,780.5 1108,780.5 1112,780.5 1116,781.5 1120,781.5 1124,781.5 1128,782.5 1132,782.5 1136,783.5 1140,784.5 1144,784.5 1148,784.5 1152,784.5 1156,784.5 1160,784.5 1164,783.5 1168,783.5 1172,783.5 1176,783.5 1180,784.5 1184,784.5 1188,784.5 1192,784.5 1196,785.5 1200,785.5 1204,785.5 1208,786.5 1212,786.5 1216,786.5 1220,786.5 1224,786.5 1228,785.5 1232,785.5 1236,785.5 1240,784.5 1244,783.5 1248,783.5 1252,783.5 1256,783.5 1260,783.5 1264,784.5 1268,784.5 1272,785.5 1276,786.5 1280,787.5 1284,788.5 1288,790.5 1292,791.5 1296,793.5 1300,794.5 1304,796.5 1308,797.5 1312,798.5 1316,798.5 1320,798.5 1324,798.5 1328,798.5" fill="none" stroke="#ff0000" stroke-width="1" shape-rendering="crispEdges"/>
<polyline points="0,838.5 4,839.8 8,840.9 12,839.8 16,840.3 20,838.9 24,837.8 28,838.8 32,837.0 36,835.0 40,834.3 44,834.3 48,834.7 52,835.2 56,835.2 60,835.2 64,836.6 68,837.5 72,838.6 76,839.1 80,838.5 84,838.3 88,838.2 92,838.1 96,837.2 100,837.6 104,838.1 108,837.2 112,837.9 116,840.1 120,838.3 124,838.2 128,835.8 132,836.6 136,837.0 140,836.7 144,836.1 148,834.9 152,835.5 156,835.5 160,835.0 164,837.7 168,835.7 172,833.0 176,833.2 180,831.8 184,831.4 188,829.8 192,828.4 196,828.2 200,827.9 204,829.0 208,828.1 212,829.1 216,830.0 220,830.0 224,831.2 228,829.1 232,830.0 236,829.1 240,829.1 244,829.1 248,829.1 252,829.9 256,831.8 260,832.3 264,830.0 268,829.1 272,829.1 276,829.7 280,829.3 284,828.2 288,828.2 292,828.8 296,829.4 300,830.0 304,831.3 308,831.4 312,834.0 316,835.9 320,836.2 324,835.9 328,834.3 332,834.8 336,836.0 340,834.5 344,834.7 348,835.2 352,834.0 356,832.6 360,831.9 364,831.4 368,830.2 372,828.9 376,828.4 380,829.0 384,825.0 388,823.6 392,823.0 396,822.2 400,822.3 404,823.6 408,823.5 412,823.3 416,823.3 420,824.0 424,823.7 428,823.3 432,823.3 436,823.3 440,822.2 444,826.8 448,826.8 452,828.2 456,830.7 460,830.6 464,831.2 468,831.4 472,831.4 476,831.4 480,830.3 484,829.1 488,830.7 492,832.3 496,831.6 500,832.6 504,834.6 508,836.6 512,837.3 516,837.5 520,838.3 524,837.6 528,837.3 532,836.4 536,835.2 540,835.2 544,836.8 548,839.6 552,840.9 556,841.3 560,841.9 564,842.6 568,842.9 572,842.2 576,841.8 580,842.5 584,842.3 588,842.0 592,841.5 596,841.1 600,836.0 604,835.0 608,834.9 612,835.1 616,835.6 620,836.9 624,836.8 628,835.0 632,835.7 636,836.5 640,837.3 644,839.0 648,841.6 652,840.1 656,837.9 660,838.1 664,838.5 668,839.1 672,839.0 676,838.3 680,837.4 684,836.4 688,835.4 692,834.4 696,835.5 700,837.0 704,837.0 708,836.2 712,834.6 716,834.6 720,835.9 724,834.8 728,834.6 732,835.2 736,832.7 740,830.0 744,830.6 748,832.1 752,833.7 756,833.5 760,832.4 764,831.8 768,831.3 772,830.6 776,830.1 780,830.6 784,831.2 788,831.7 792,832.2 796,831.8 800,830.8 804,829.2 808,829.9 812,830.9 816,831.4 820,831.3 824,830.2 828,831.6 832,832.7 836,834.2 840,834.7 844,833.5 848,833.7 852,834.2 856,835.2 860,836.6 864,838.5 868,836.0 872,834.3 876,834.2 880,833.4 884,834.6 888,836.0 892,837.2 896,839.0 900,837.1 904,835.1 908,834.9 912,836.3 916,836.8 920,836.3 924,836.7 928,836.9 932,834.2 936,833.9 940,833.7 944,833.5 948,835.7 952,836.3 956,836.5 960,837.1 964,837.6 968,838.2 972,839.2 976,838.1 980,836.2 984,833.0 988,831.7 992,831.5 996,832.3 1000,831.4 1004,830.0 1008,829.4 1012,830.1 1016,831.3 1020,831.4 1024,831.4 1028,831.4 1032,831.4 1036,830.8 1040,830.1 1044,828.8 1048,828.7 1052,828.3 1056,829.6 1060,829.4 1064,828.8 1068,828.3 1072,829.0 1076,829.6 1080,827.5 1084,825.3 1088,829.4 1092,829.2 1096,829.1 1100,828.1 1104,830.4 1108,832.8 1112,833.1 1116,832.8 1120,832.4 1124,834.5 1128,834.5 1132,833.6 1136,833.3 1140,832.0 1144,830.4 1148,829.3 1152,830.7 1156,831.0 1160,830.5 1164,831.8 1168,831.7 1172,831.4 1176,831.4 1180,832.4 1184,836.7 1188,835.5 1192,833.8 1196,832.5 1200,833.2 1204,832.5 1208,833.2 1212,834.1 1216,831.4 1220,829.4 1224,832.1 1228,830.7 1232,829.4 1236,829.2 1240,830.3 1244,832.6 1248,833.4 1252,834.4 1256,833.9 1260,837.3 1264,837.7 1268,837.0 1272,835.4 1276,835.2 1280,836.6 1284,838.6 1288,839.4 1292,839.9 1296,839.2 1300,838.2 1304,836.9 1308,835.4 1312,834.4 1316,834.9 1320,836.0 1324,837.0 1328,836.2" fill="none" stroke="#1e90ff" stroke-width="1" shape-rendering="crispEdges"/>
<polygon points="1328,4 1339.5,4 1333.7,10.2" fill="#778899"/>
<polygon points="1560,78 1562,77 1565,80 1565,82 1563,82 1560,80" fill="#000"/>
<rect x="1663" y="645" width="3" height="4" fill="#000"/>
<g stroke="#ee1c25" stroke-width="3" fill="none" shape-rendering="crispEdges" stroke-linecap="butt">
<line x1="1452.3" y1="121" x2="1472" y2="64"/>
<polyline points="1366.4,338.8 1382.6,240 1389.6,200 1396.3,166"/>
<line x1="1387.6" y1="177" x2="1395.5" y2="168" stroke-width="3.4" stroke-linecap="square"/>
<line x1="1400.1" y1="180.4" x2="1397" y2="168" stroke-width="3.2" stroke-linecap="square"/>
</g>
<polygon points="1395,163 1398,163 1399,164 1399,167 1398,168 1394,168 1394,164" fill="#ee1c25" shape-rendering="crispEdges"/>
<polygon points="1476.3,47.5 1477.4,55 1477,63.5 1475.2,68.2 1471.3,67.8 1471.8,62.5 1469,63.3 1466.6,60 1471,53.5" fill="#ee1c25" shape-rendering="crispEdges"/>
<g stroke="#fff" stroke-width="3.2" fill="none" shape-rendering="crispEdges" stroke-linecap="butt">
<line x1="1426.6" y1="387" x2="1459.5" y2="524"/>
<line x1="1452" y1="515" x2="1459.5" y2="527"/>
<line x1="1514.2" y1="400" x2="1599.8" y2="703"/>
<line x1="1592" y1="699.3" x2="1599.8" y2="708"/>
</g>
<rect x="1459" y="511" width="3" height="17" fill="#fff" shape-rendering="crispEdges"/>
<polygon points="1600.3,687 1603,687 1602.8,707.5 1599.2,707.5" fill="#fff" shape-rendering="crispEdges"/>
<text class="big" x="668.8" y="64.5" textLength="121.2" lengthAdjust="spacingAndGlyphs" font-size="28.5" fill="#fff" stroke="#fff" stroke-width="0.70" stroke-linejoin="round">USDJPY</text>
<text class="big" x="665.0" y="104.4" textLength="128.2" lengthAdjust="spacingAndGlyphs" font-size="28.5" fill="#fff" stroke="#fff" stroke-width="0.70" stroke-linejoin="round">H1 Chart</text>
<text class="big" x="1447.5" y="35.8" textLength="70.8" lengthAdjust="spacingAndGlyphs" font-size="19.3" fill="#1e90ff" stroke="#1e90ff" stroke-width="0.90" stroke-linejoin="round">157.75</text>
<text class="big" x="1340.5" y="134.2" textLength="71.0" lengthAdjust="spacingAndGlyphs" font-size="19.3" fill="#1e90ff" stroke="#1e90ff" stroke-width="0.90" stroke-linejoin="round">157.30</text>
<text class="big" x="1323.6" y="390.9" textLength="71.0" lengthAdjust="spacingAndGlyphs" font-size="19.3" fill="#1e90ff" stroke="#1e90ff" stroke-width="0.90" stroke-linejoin="round">156.10</text>
<text class="big" x="1345.6" y="574.8" textLength="71.0" lengthAdjust="spacingAndGlyphs" font-size="19.3" fill="#1e90ff" stroke="#1e90ff" stroke-width="0.90" stroke-linejoin="round">155.25</text>
<text class="big" x="1420.5" y="745.6" textLength="71.6" lengthAdjust="spacingAndGlyphs" font-size="19.5" fill="#fff" stroke="#fff" stroke-width="0.90" stroke-linejoin="round">154.45</text>
</svg></body></html>
